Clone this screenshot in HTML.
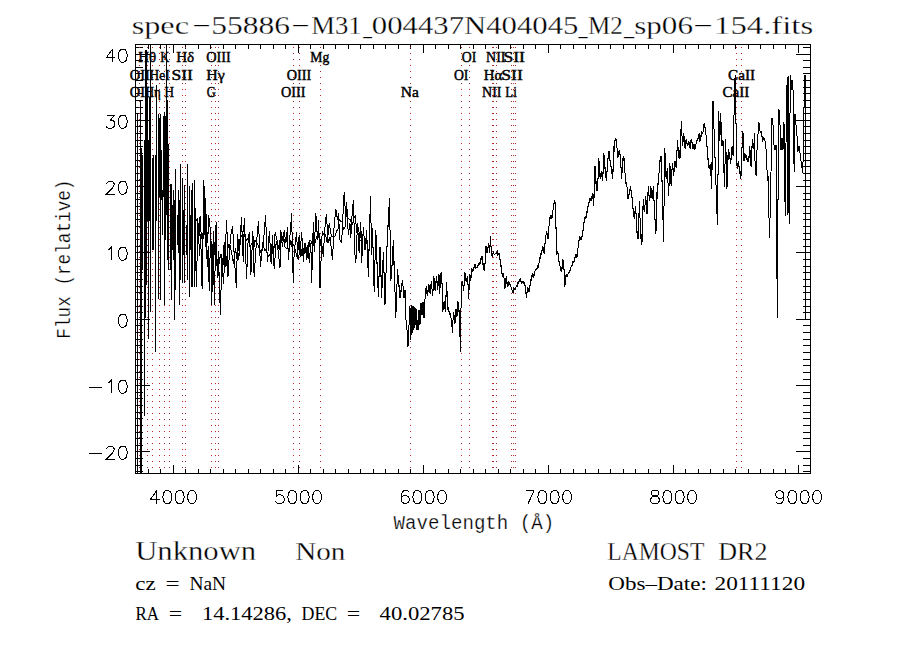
<!DOCTYPE html>
<html><head><meta charset="utf-8"><style>html,body{margin:0;padding:0;background:#fff;}svg{display:block}</style></head>
<body><svg width="900" height="650" viewBox="0 0 900 650">
<rect width="900" height="650" fill="#fff"/>
<path d="M135.5,44.5 H810.5 V473.5 H135.5 Z M135.5,473 v-4 M135.5,45 v4 M148.5,473 v-4 M148.5,45 v4 M160.5,473 v-4 M160.5,45 v4 M173.5,473 v-8 M173.5,45 v8 M185.5,473 v-4 M185.5,45 v4 M198.5,473 v-4 M198.5,45 v4 M210.5,473 v-4 M210.5,45 v4 M223.5,473 v-4 M223.5,45 v4 M235.5,473 v-4 M235.5,45 v4 M248.5,473 v-4 M248.5,45 v4 M260.5,473 v-4 M260.5,45 v4 M273.5,473 v-4 M273.5,45 v4 M285.5,473 v-4 M285.5,45 v4 M298.5,473 v-8 M298.5,45 v8 M310.5,473 v-4 M310.5,45 v4 M323.5,473 v-4 M323.5,45 v4 M335.5,473 v-4 M335.5,45 v4 M348.5,473 v-4 M348.5,45 v4 M360.5,473 v-4 M360.5,45 v4 M373.5,473 v-4 M373.5,45 v4 M385.5,473 v-4 M385.5,45 v4 M398.5,473 v-4 M398.5,45 v4 M410.5,473 v-4 M410.5,45 v4 M423.5,473 v-8 M423.5,45 v8 M435.5,473 v-4 M435.5,45 v4 M448.5,473 v-4 M448.5,45 v4 M460.5,473 v-4 M460.5,45 v4 M473.5,473 v-4 M473.5,45 v4 M485.5,473 v-4 M485.5,45 v4 M498.5,473 v-4 M498.5,45 v4 M510.5,473 v-4 M510.5,45 v4 M523.5,473 v-4 M523.5,45 v4 M535.5,473 v-4 M535.5,45 v4 M548.5,473 v-8 M548.5,45 v8 M560.5,473 v-4 M560.5,45 v4 M573.5,473 v-4 M573.5,45 v4 M585.5,473 v-4 M585.5,45 v4 M598.5,473 v-4 M598.5,45 v4 M610.5,473 v-4 M610.5,45 v4 M623.5,473 v-4 M623.5,45 v4 M635.5,473 v-4 M635.5,45 v4 M648.5,473 v-4 M648.5,45 v4 M660.5,473 v-4 M660.5,45 v4 M673.5,473 v-8 M673.5,45 v8 M685.5,473 v-4 M685.5,45 v4 M698.5,473 v-4 M698.5,45 v4 M710.5,473 v-4 M710.5,45 v4 M723.5,473 v-4 M723.5,45 v4 M735.5,473 v-4 M735.5,45 v4 M748.5,473 v-4 M748.5,45 v4 M760.5,473 v-4 M760.5,45 v4 M773.5,473 v-4 M773.5,45 v4 M785.5,473 v-4 M785.5,45 v4 M798.5,473 v-8 M798.5,45 v8 M136,471.5 h7 M810,471.5 h-7 M136,465.5 h7 M810,465.5 h-7 M136,458.5 h7 M810,458.5 h-7 M136,451.5 h14 M810,451.5 h-14 M136,445.5 h7 M810,445.5 h-7 M136,438.5 h7 M810,438.5 h-7 M136,432.5 h7 M810,432.5 h-7 M136,425.5 h7 M810,425.5 h-7 M136,418.5 h7 M810,418.5 h-7 M136,412.5 h7 M810,412.5 h-7 M136,405.5 h7 M810,405.5 h-7 M136,398.5 h7 M810,398.5 h-7 M136,392.5 h7 M810,392.5 h-7 M136,385.5 h14 M810,385.5 h-14 M136,379.5 h7 M810,379.5 h-7 M136,372.5 h7 M810,372.5 h-7 M136,365.5 h7 M810,365.5 h-7 M136,359.5 h7 M810,359.5 h-7 M136,352.5 h7 M810,352.5 h-7 M136,345.5 h7 M810,345.5 h-7 M136,339.5 h7 M810,339.5 h-7 M136,332.5 h7 M810,332.5 h-7 M136,325.5 h7 M810,325.5 h-7 M136,319.5 h14 M810,319.5 h-14 M136,312.5 h7 M810,312.5 h-7 M136,306.5 h7 M810,306.5 h-7 M136,299.5 h7 M810,299.5 h-7 M136,292.5 h7 M810,292.5 h-7 M136,286.5 h7 M810,286.5 h-7 M136,279.5 h7 M810,279.5 h-7 M136,272.5 h7 M810,272.5 h-7 M136,266.5 h7 M810,266.5 h-7 M136,259.5 h7 M810,259.5 h-7 M136,252.5 h14 M810,252.5 h-14 M136,246.5 h7 M810,246.5 h-7 M136,239.5 h7 M810,239.5 h-7 M136,233.5 h7 M810,233.5 h-7 M136,226.5 h7 M810,226.5 h-7 M136,219.5 h7 M810,219.5 h-7 M136,213.5 h7 M810,213.5 h-7 M136,206.5 h7 M810,206.5 h-7 M136,199.5 h7 M810,199.5 h-7 M136,193.5 h7 M810,193.5 h-7 M136,186.5 h14 M810,186.5 h-14 M136,180.5 h7 M810,180.5 h-7 M136,173.5 h7 M810,173.5 h-7 M136,166.5 h7 M810,166.5 h-7 M136,160.5 h7 M810,160.5 h-7 M136,153.5 h7 M810,153.5 h-7 M136,146.5 h7 M810,146.5 h-7 M136,140.5 h7 M810,140.5 h-7 M136,133.5 h7 M810,133.5 h-7 M136,126.5 h7 M810,126.5 h-7 M136,120.5 h14 M810,120.5 h-14 M136,113.5 h7 M810,113.5 h-7 M136,107.5 h7 M810,107.5 h-7 M136,100.5 h7 M810,100.5 h-7 M136,93.5 h7 M810,93.5 h-7 M136,87.5 h7 M810,87.5 h-7 M136,80.5 h7 M810,80.5 h-7 M136,73.5 h7 M810,73.5 h-7 M136,67.5 h7 M810,67.5 h-7 M136,60.5 h7 M810,60.5 h-7 M136,54.5 h14 M810,54.5 h-14 M136,47.5 h7 M810,47.5 h-7" stroke="#000" stroke-width="1" fill="none" shape-rendering="crispEdges"/>
<path d="M156.81,490.52 L150.63,499.17 L159.90,499.17M156.81,490.52 L156.81,503.50M166.70,490.52 L164.85,491.14 L163.61,492.99 L162.99,496.08 L162.99,497.94 L163.61,501.03 L164.85,502.88 L166.70,503.50 L167.94,503.50 L169.79,502.88 L171.03,501.03 L171.65,497.94 L171.65,496.08 L171.03,492.99 L169.79,491.14 L167.94,490.52 L166.70,490.52M179.06,490.52 L177.21,491.14 L175.97,492.99 L175.35,496.08 L175.35,497.94 L175.97,501.03 L177.21,502.88 L179.06,503.50 L180.30,503.50 L182.15,502.88 L183.39,501.03 L184.01,497.94 L184.01,496.08 L183.39,492.99 L182.15,491.14 L180.30,490.52 L179.06,490.52M191.42,490.52 L189.57,491.14 L188.33,492.99 L187.71,496.08 L187.71,497.94 L188.33,501.03 L189.57,502.88 L191.42,503.50 L192.66,503.50 L194.51,502.88 L195.75,501.03 L196.37,497.94 L196.37,496.08 L195.75,492.99 L194.51,491.14 L192.66,490.52 L191.42,490.52M283.05,490.52 L276.87,490.52 L276.25,496.08 L276.87,495.47 L278.72,494.85 L280.58,494.85 L282.43,495.47 L283.67,496.70 L284.29,498.56 L284.29,499.79 L283.67,501.65 L282.43,502.88 L280.58,503.50 L278.72,503.50 L276.87,502.88 L276.25,502.26 L275.63,501.03M291.70,490.52 L289.85,491.14 L288.61,492.99 L287.99,496.08 L287.99,497.94 L288.61,501.03 L289.85,502.88 L291.70,503.50 L292.94,503.50 L294.79,502.88 L296.03,501.03 L296.65,497.94 L296.65,496.08 L296.03,492.99 L294.79,491.14 L292.94,490.52 L291.70,490.52M304.06,490.52 L302.21,491.14 L300.97,492.99 L300.35,496.08 L300.35,497.94 L300.97,501.03 L302.21,502.88 L304.06,503.50 L305.30,503.50 L307.15,502.88 L308.39,501.03 L309.01,497.94 L309.01,496.08 L308.39,492.99 L307.15,491.14 L305.30,490.52 L304.06,490.52M316.42,490.52 L314.57,491.14 L313.33,492.99 L312.71,496.08 L312.71,497.94 L313.33,501.03 L314.57,502.88 L316.42,503.50 L317.66,503.50 L319.51,502.88 L320.75,501.03 L321.37,497.94 L321.37,496.08 L320.75,492.99 L319.51,491.14 L317.66,490.52 L316.42,490.52M408.67,492.38 L408.05,491.14 L406.20,490.52 L404.96,490.52 L403.11,491.14 L401.87,492.99 L401.25,496.08 L401.25,499.17 L401.87,501.65 L403.11,502.88 L404.96,503.50 L405.58,503.50 L407.43,502.88 L408.67,501.65 L409.29,499.79 L409.29,499.17 L408.67,497.32 L407.43,496.08 L405.58,495.47 L404.96,495.47 L403.11,496.08 L401.87,497.32 L401.25,499.17M416.70,490.52 L414.85,491.14 L413.61,492.99 L412.99,496.08 L412.99,497.94 L413.61,501.03 L414.85,502.88 L416.70,503.50 L417.94,503.50 L419.79,502.88 L421.03,501.03 L421.65,497.94 L421.65,496.08 L421.03,492.99 L419.79,491.14 L417.94,490.52 L416.70,490.52M429.06,490.52 L427.21,491.14 L425.97,492.99 L425.35,496.08 L425.35,497.94 L425.97,501.03 L427.21,502.88 L429.06,503.50 L430.30,503.50 L432.15,502.88 L433.39,501.03 L434.01,497.94 L434.01,496.08 L433.39,492.99 L432.15,491.14 L430.30,490.52 L429.06,490.52M441.42,490.52 L439.57,491.14 L438.33,492.99 L437.71,496.08 L437.71,497.94 L438.33,501.03 L439.57,502.88 L441.42,503.50 L442.66,503.50 L444.51,502.88 L445.75,501.03 L446.37,497.94 L446.37,496.08 L445.75,492.99 L444.51,491.14 L442.66,490.52 L441.42,490.52M534.29,490.52 L528.11,503.50M525.63,490.52 L534.29,490.52M541.70,490.52 L539.85,491.14 L538.61,492.99 L537.99,496.08 L537.99,497.94 L538.61,501.03 L539.85,502.88 L541.70,503.50 L542.94,503.50 L544.79,502.88 L546.03,501.03 L546.65,497.94 L546.65,496.08 L546.03,492.99 L544.79,491.14 L542.94,490.52 L541.70,490.52M554.06,490.52 L552.21,491.14 L550.97,492.99 L550.35,496.08 L550.35,497.94 L550.97,501.03 L552.21,502.88 L554.06,503.50 L555.30,503.50 L557.15,502.88 L558.39,501.03 L559.01,497.94 L559.01,496.08 L558.39,492.99 L557.15,491.14 L555.30,490.52 L554.06,490.52M566.42,490.52 L564.57,491.14 L563.33,492.99 L562.71,496.08 L562.71,497.94 L563.33,501.03 L564.57,502.88 L566.42,503.50 L567.66,503.50 L569.51,502.88 L570.75,501.03 L571.37,497.94 L571.37,496.08 L570.75,492.99 L569.51,491.14 L567.66,490.52 L566.42,490.52M653.72,490.52 L651.87,491.14 L651.25,492.38 L651.25,493.61 L651.87,494.85 L653.11,495.47 L655.58,496.08 L657.43,496.70 L658.67,497.94 L659.29,499.17 L659.29,501.03 L658.67,502.26 L658.05,502.88 L656.20,503.50 L653.72,503.50 L651.87,502.88 L651.25,502.26 L650.63,501.03 L650.63,499.17 L651.25,497.94 L652.49,496.70 L654.34,496.08 L656.81,495.47 L658.05,494.85 L658.67,493.61 L658.67,492.38 L658.05,491.14 L656.20,490.52 L653.72,490.52M666.70,490.52 L664.85,491.14 L663.61,492.99 L662.99,496.08 L662.99,497.94 L663.61,501.03 L664.85,502.88 L666.70,503.50 L667.94,503.50 L669.79,502.88 L671.03,501.03 L671.65,497.94 L671.65,496.08 L671.03,492.99 L669.79,491.14 L667.94,490.52 L666.70,490.52M679.06,490.52 L677.21,491.14 L675.97,492.99 L675.35,496.08 L675.35,497.94 L675.97,501.03 L677.21,502.88 L679.06,503.50 L680.30,503.50 L682.15,502.88 L683.39,501.03 L684.01,497.94 L684.01,496.08 L683.39,492.99 L682.15,491.14 L680.30,490.52 L679.06,490.52M691.42,490.52 L689.57,491.14 L688.33,492.99 L687.71,496.08 L687.71,497.94 L688.33,501.03 L689.57,502.88 L691.42,503.50 L692.66,503.50 L694.51,502.88 L695.75,501.03 L696.37,497.94 L696.37,496.08 L695.75,492.99 L694.51,491.14 L692.66,490.52 L691.42,490.52M783.67,494.85 L783.05,496.70 L781.81,497.94 L779.96,498.56 L779.34,498.56 L777.49,497.94 L776.25,496.70 L775.63,494.85 L775.63,494.23 L776.25,492.38 L777.49,491.14 L779.34,490.52 L779.96,490.52 L781.81,491.14 L783.05,492.38 L783.67,494.85 L783.67,497.94 L783.05,501.03 L781.81,502.88 L779.96,503.50 L778.72,503.50 L776.87,502.88 L776.25,501.65M791.70,490.52 L789.85,491.14 L788.61,492.99 L787.99,496.08 L787.99,497.94 L788.61,501.03 L789.85,502.88 L791.70,503.50 L792.94,503.50 L794.79,502.88 L796.03,501.03 L796.65,497.94 L796.65,496.08 L796.03,492.99 L794.79,491.14 L792.94,490.52 L791.70,490.52M804.06,490.52 L802.21,491.14 L800.97,492.99 L800.35,496.08 L800.35,497.94 L800.97,501.03 L802.21,502.88 L804.06,503.50 L805.30,503.50 L807.15,502.88 L808.39,501.03 L809.01,497.94 L809.01,496.08 L808.39,492.99 L807.15,491.14 L805.30,490.52 L804.06,490.52M816.42,490.52 L814.57,491.14 L813.33,492.99 L812.71,496.08 L812.71,497.94 L813.33,501.03 L814.57,502.88 L816.42,503.50 L817.66,503.50 L819.51,502.88 L820.75,501.03 L821.37,497.94 L821.37,496.08 L820.75,492.99 L819.51,491.14 L817.66,490.52 L816.42,490.52M88.83,453.74 L101.81,453.74M106.75,449.41 L106.75,448.79 L107.37,447.56 L107.99,446.94 L109.22,446.32 L111.70,446.32 L112.93,446.94 L113.55,447.56 L114.17,448.79 L114.17,450.03 L113.55,451.27 L112.31,453.12 L106.13,459.30 L114.79,459.30M122.20,446.32 L120.35,446.94 L119.11,448.79 L118.49,451.88 L118.49,453.74 L119.11,456.83 L120.35,458.68 L122.20,459.30 L123.44,459.30 L125.29,458.68 L126.53,456.83 L127.15,453.74 L127.15,451.88 L126.53,448.79 L125.29,446.94 L123.44,446.32 L122.20,446.32M88.83,387.74 L101.81,387.74M107.99,382.79 L109.22,382.18 L111.08,380.32 L111.08,393.30M122.20,380.32 L120.35,380.94 L119.11,382.79 L118.49,385.88 L118.49,387.74 L119.11,390.83 L120.35,392.68 L122.20,393.30 L123.44,393.30 L125.29,392.68 L126.53,390.83 L127.15,387.74 L127.15,385.88 L126.53,382.79 L125.29,380.94 L123.44,380.32 L122.20,380.32M122.20,314.32 L120.35,314.94 L119.11,316.79 L118.49,319.88 L118.49,321.74 L119.11,324.83 L120.35,326.68 L122.20,327.30 L123.44,327.30 L125.29,326.68 L126.53,324.83 L127.15,321.74 L127.15,319.88 L126.53,316.79 L125.29,314.94 L123.44,314.32 L122.20,314.32M107.99,249.79 L109.22,249.18 L111.08,247.32 L111.08,260.30M122.20,247.32 L120.35,247.94 L119.11,249.79 L118.49,252.88 L118.49,254.74 L119.11,257.83 L120.35,259.68 L122.20,260.30 L123.44,260.30 L125.29,259.68 L126.53,257.83 L127.15,254.74 L127.15,252.88 L126.53,249.79 L125.29,247.94 L123.44,247.32 L122.20,247.32M106.75,184.41 L106.75,183.79 L107.37,182.56 L107.99,181.94 L109.22,181.32 L111.70,181.32 L112.93,181.94 L113.55,182.56 L114.17,183.79 L114.17,185.03 L113.55,186.27 L112.31,188.12 L106.13,194.30 L114.79,194.30M122.20,181.32 L120.35,181.94 L119.11,183.79 L118.49,186.88 L118.49,188.74 L119.11,191.83 L120.35,193.68 L122.20,194.30 L123.44,194.30 L125.29,193.68 L126.53,191.83 L127.15,188.74 L127.15,186.88 L126.53,183.79 L125.29,181.94 L123.44,181.32 L122.20,181.32M107.37,115.32 L114.17,115.32 L110.46,120.27 L112.31,120.27 L113.55,120.88 L114.17,121.50 L114.79,123.36 L114.79,124.59 L114.17,126.45 L112.93,127.68 L111.08,128.30 L109.22,128.30 L107.37,127.68 L106.75,127.06 L106.13,125.83M122.20,115.32 L120.35,115.94 L119.11,117.79 L118.49,120.88 L118.49,122.74 L119.11,125.83 L120.35,127.68 L122.20,128.30 L123.44,128.30 L125.29,127.68 L126.53,125.83 L127.15,122.74 L127.15,120.88 L126.53,117.79 L125.29,115.94 L123.44,115.32 L122.20,115.32M112.31,49.32 L106.13,57.97 L115.40,57.97M112.31,49.32 L112.31,62.30M122.20,49.32 L120.35,49.94 L119.11,51.79 L118.49,54.88 L118.49,56.74 L119.11,59.83 L120.35,61.68 L122.20,62.30 L123.44,62.30 L125.29,61.68 L126.53,59.83 L127.15,56.74 L127.15,54.88 L126.53,51.79 L125.29,49.94 L123.44,49.32 L122.20,49.32" stroke="#000" stroke-width="1" fill="none" shape-rendering="crispEdges"/>
<path d="M139,47h1v1h-1zM139,53h1v1h-1zM139,59h1v1h-1zM139,65h1v1h-1zM139,71h1v1h-1zM139,77h1v1h-1zM139,83h1v1h-1zM139,89h1v1h-1zM139,95h1v1h-1zM139,101h1v1h-1zM139,107h1v1h-1zM139,113h1v1h-1zM139,119h1v1h-1zM139,125h1v1h-1zM139,131h1v1h-1zM139,137h1v1h-1zM139,143h1v1h-1zM139,149h1v1h-1zM139,155h1v1h-1zM139,161h1v1h-1zM139,167h1v1h-1zM139,173h1v1h-1zM139,179h1v1h-1zM139,185h1v1h-1zM139,191h1v1h-1zM139,197h1v1h-1zM139,203h1v1h-1zM139,209h1v1h-1zM139,215h1v1h-1zM139,221h1v1h-1zM139,227h1v1h-1zM139,233h1v1h-1zM139,239h1v1h-1zM139,245h1v1h-1zM139,251h1v1h-1zM139,257h1v1h-1zM139,263h1v1h-1zM139,269h1v1h-1zM139,275h1v1h-1zM139,281h1v1h-1zM139,287h1v1h-1zM139,293h1v1h-1zM139,299h1v1h-1zM139,305h1v1h-1zM139,311h1v1h-1zM139,317h1v1h-1zM139,323h1v1h-1zM139,329h1v1h-1zM139,335h1v1h-1zM139,341h1v1h-1zM139,347h1v1h-1zM139,353h1v1h-1zM139,359h1v1h-1zM139,365h1v1h-1zM139,371h1v1h-1zM139,377h1v1h-1zM139,383h1v1h-1zM139,389h1v1h-1zM139,395h1v1h-1zM139,401h1v1h-1zM139,407h1v1h-1zM139,413h1v1h-1zM139,419h1v1h-1zM139,425h1v1h-1zM139,431h1v1h-1zM139,437h1v1h-1zM139,443h1v1h-1zM139,449h1v1h-1zM139,455h1v1h-1zM139,461h1v1h-1zM139,467h1v1h-1zM147,47h1v1h-1zM147,53h1v1h-1zM147,59h1v1h-1zM147,65h1v1h-1zM147,71h1v1h-1zM147,77h1v1h-1zM147,83h1v1h-1zM147,89h1v1h-1zM147,95h1v1h-1zM147,101h1v1h-1zM147,107h1v1h-1zM147,113h1v1h-1zM147,119h1v1h-1zM147,125h1v1h-1zM147,131h1v1h-1zM147,137h1v1h-1zM147,143h1v1h-1zM147,149h1v1h-1zM147,155h1v1h-1zM147,161h1v1h-1zM147,167h1v1h-1zM147,173h1v1h-1zM147,179h1v1h-1zM147,185h1v1h-1zM147,191h1v1h-1zM147,197h1v1h-1zM147,203h1v1h-1zM147,209h1v1h-1zM147,215h1v1h-1zM147,221h1v1h-1zM147,227h1v1h-1zM147,233h1v1h-1zM147,239h1v1h-1zM147,245h1v1h-1zM147,251h1v1h-1zM147,257h1v1h-1zM147,263h1v1h-1zM147,269h1v1h-1zM147,275h1v1h-1zM147,281h1v1h-1zM147,287h1v1h-1zM147,293h1v1h-1zM147,299h1v1h-1zM147,305h1v1h-1zM147,311h1v1h-1zM147,317h1v1h-1zM147,323h1v1h-1zM147,329h1v1h-1zM147,335h1v1h-1zM147,341h1v1h-1zM147,347h1v1h-1zM147,353h1v1h-1zM147,359h1v1h-1zM147,365h1v1h-1zM147,371h1v1h-1zM147,377h1v1h-1zM147,383h1v1h-1zM147,389h1v1h-1zM147,395h1v1h-1zM147,401h1v1h-1zM147,407h1v1h-1zM147,413h1v1h-1zM147,419h1v1h-1zM147,425h1v1h-1zM147,431h1v1h-1zM147,437h1v1h-1zM147,443h1v1h-1zM147,449h1v1h-1zM147,455h1v1h-1zM147,461h1v1h-1zM147,467h1v1h-1zM152,47h1v1h-1zM152,53h1v1h-1zM152,59h1v1h-1zM152,65h1v1h-1zM152,71h1v1h-1zM152,77h1v1h-1zM152,83h1v1h-1zM152,89h1v1h-1zM152,95h1v1h-1zM152,101h1v1h-1zM152,107h1v1h-1zM152,113h1v1h-1zM152,119h1v1h-1zM152,125h1v1h-1zM152,131h1v1h-1zM152,137h1v1h-1zM152,143h1v1h-1zM152,149h1v1h-1zM152,155h1v1h-1zM152,161h1v1h-1zM152,167h1v1h-1zM152,173h1v1h-1zM152,179h1v1h-1zM152,185h1v1h-1zM152,191h1v1h-1zM152,197h1v1h-1zM152,203h1v1h-1zM152,209h1v1h-1zM152,215h1v1h-1zM152,221h1v1h-1zM152,227h1v1h-1zM152,233h1v1h-1zM152,239h1v1h-1zM152,245h1v1h-1zM152,251h1v1h-1zM152,257h1v1h-1zM152,263h1v1h-1zM152,269h1v1h-1zM152,275h1v1h-1zM152,281h1v1h-1zM152,287h1v1h-1zM152,293h1v1h-1zM152,299h1v1h-1zM152,305h1v1h-1zM152,311h1v1h-1zM152,317h1v1h-1zM152,323h1v1h-1zM152,329h1v1h-1zM152,335h1v1h-1zM152,341h1v1h-1zM152,347h1v1h-1zM152,353h1v1h-1zM152,359h1v1h-1zM152,365h1v1h-1zM152,371h1v1h-1zM152,377h1v1h-1zM152,383h1v1h-1zM152,389h1v1h-1zM152,395h1v1h-1zM152,401h1v1h-1zM152,407h1v1h-1zM152,413h1v1h-1zM152,419h1v1h-1zM152,425h1v1h-1zM152,431h1v1h-1zM152,437h1v1h-1zM152,443h1v1h-1zM152,449h1v1h-1zM152,455h1v1h-1zM152,461h1v1h-1zM152,467h1v1h-1zM159,47h1v1h-1zM159,53h1v1h-1zM159,59h1v1h-1zM159,65h1v1h-1zM159,71h1v1h-1zM159,77h1v1h-1zM159,83h1v1h-1zM159,89h1v1h-1zM159,95h1v1h-1zM159,101h1v1h-1zM159,107h1v1h-1zM159,113h1v1h-1zM159,119h1v1h-1zM159,125h1v1h-1zM159,131h1v1h-1zM159,137h1v1h-1zM159,143h1v1h-1zM159,149h1v1h-1zM159,155h1v1h-1zM159,161h1v1h-1zM159,167h1v1h-1zM159,173h1v1h-1zM159,179h1v1h-1zM159,185h1v1h-1zM159,191h1v1h-1zM159,197h1v1h-1zM159,203h1v1h-1zM159,209h1v1h-1zM159,215h1v1h-1zM159,221h1v1h-1zM159,227h1v1h-1zM159,233h1v1h-1zM159,239h1v1h-1zM159,245h1v1h-1zM159,251h1v1h-1zM159,257h1v1h-1zM159,263h1v1h-1zM159,269h1v1h-1zM159,275h1v1h-1zM159,281h1v1h-1zM159,287h1v1h-1zM159,293h1v1h-1zM159,299h1v1h-1zM159,305h1v1h-1zM159,311h1v1h-1zM159,317h1v1h-1zM159,323h1v1h-1zM159,329h1v1h-1zM159,335h1v1h-1zM159,341h1v1h-1zM159,347h1v1h-1zM159,353h1v1h-1zM159,359h1v1h-1zM159,365h1v1h-1zM159,371h1v1h-1zM159,377h1v1h-1zM159,383h1v1h-1zM159,389h1v1h-1zM159,395h1v1h-1zM159,401h1v1h-1zM159,407h1v1h-1zM159,413h1v1h-1zM159,419h1v1h-1zM159,425h1v1h-1zM159,431h1v1h-1zM159,437h1v1h-1zM159,443h1v1h-1zM159,449h1v1h-1zM159,455h1v1h-1zM159,461h1v1h-1zM159,467h1v1h-1zM164,47h1v1h-1zM164,53h1v1h-1zM164,59h1v1h-1zM164,65h1v1h-1zM164,71h1v1h-1zM164,77h1v1h-1zM164,83h1v1h-1zM164,89h1v1h-1zM164,95h1v1h-1zM164,101h1v1h-1zM164,107h1v1h-1zM164,113h1v1h-1zM164,119h1v1h-1zM164,125h1v1h-1zM164,131h1v1h-1zM164,137h1v1h-1zM164,143h1v1h-1zM164,149h1v1h-1zM164,155h1v1h-1zM164,161h1v1h-1zM164,167h1v1h-1zM164,173h1v1h-1zM164,179h1v1h-1zM164,185h1v1h-1zM164,191h1v1h-1zM164,197h1v1h-1zM164,203h1v1h-1zM164,209h1v1h-1zM164,215h1v1h-1zM164,221h1v1h-1zM164,227h1v1h-1zM164,233h1v1h-1zM164,239h1v1h-1zM164,245h1v1h-1zM164,251h1v1h-1zM164,257h1v1h-1zM164,263h1v1h-1zM164,269h1v1h-1zM164,275h1v1h-1zM164,281h1v1h-1zM164,287h1v1h-1zM164,293h1v1h-1zM164,299h1v1h-1zM164,305h1v1h-1zM164,311h1v1h-1zM164,317h1v1h-1zM164,323h1v1h-1zM164,329h1v1h-1zM164,335h1v1h-1zM164,341h1v1h-1zM164,347h1v1h-1zM164,353h1v1h-1zM164,359h1v1h-1zM164,365h1v1h-1zM164,371h1v1h-1zM164,377h1v1h-1zM164,383h1v1h-1zM164,389h1v1h-1zM164,395h1v1h-1zM164,401h1v1h-1zM164,407h1v1h-1zM164,413h1v1h-1zM164,419h1v1h-1zM164,425h1v1h-1zM164,431h1v1h-1zM164,437h1v1h-1zM164,443h1v1h-1zM164,449h1v1h-1zM164,455h1v1h-1zM164,461h1v1h-1zM164,467h1v1h-1zM169,47h1v1h-1zM169,53h1v1h-1zM169,59h1v1h-1zM169,65h1v1h-1zM169,71h1v1h-1zM169,77h1v1h-1zM169,83h1v1h-1zM169,89h1v1h-1zM169,95h1v1h-1zM169,101h1v1h-1zM169,107h1v1h-1zM169,113h1v1h-1zM169,119h1v1h-1zM169,125h1v1h-1zM169,131h1v1h-1zM169,137h1v1h-1zM169,143h1v1h-1zM169,149h1v1h-1zM169,155h1v1h-1zM169,161h1v1h-1zM169,167h1v1h-1zM169,173h1v1h-1zM169,179h1v1h-1zM169,185h1v1h-1zM169,191h1v1h-1zM169,197h1v1h-1zM169,203h1v1h-1zM169,209h1v1h-1zM169,215h1v1h-1zM169,221h1v1h-1zM169,227h1v1h-1zM169,233h1v1h-1zM169,239h1v1h-1zM169,245h1v1h-1zM169,251h1v1h-1zM169,257h1v1h-1zM169,263h1v1h-1zM169,269h1v1h-1zM169,275h1v1h-1zM169,281h1v1h-1zM169,287h1v1h-1zM169,293h1v1h-1zM169,299h1v1h-1zM169,305h1v1h-1zM169,311h1v1h-1zM169,317h1v1h-1zM169,323h1v1h-1zM169,329h1v1h-1zM169,335h1v1h-1zM169,341h1v1h-1zM169,347h1v1h-1zM169,353h1v1h-1zM169,359h1v1h-1zM169,365h1v1h-1zM169,371h1v1h-1zM169,377h1v1h-1zM169,383h1v1h-1zM169,389h1v1h-1zM169,395h1v1h-1zM169,401h1v1h-1zM169,407h1v1h-1zM169,413h1v1h-1zM169,419h1v1h-1zM169,425h1v1h-1zM169,431h1v1h-1zM169,437h1v1h-1zM169,443h1v1h-1zM169,449h1v1h-1zM169,455h1v1h-1zM169,461h1v1h-1zM169,467h1v1h-1zM182,47h1v1h-1zM182,53h1v1h-1zM182,59h1v1h-1zM182,65h1v1h-1zM182,71h1v1h-1zM182,77h1v1h-1zM182,83h1v1h-1zM182,89h1v1h-1zM182,95h1v1h-1zM182,101h1v1h-1zM182,107h1v1h-1zM182,113h1v1h-1zM182,119h1v1h-1zM182,125h1v1h-1zM182,131h1v1h-1zM182,137h1v1h-1zM182,143h1v1h-1zM182,149h1v1h-1zM182,155h1v1h-1zM182,161h1v1h-1zM182,167h1v1h-1zM182,173h1v1h-1zM182,179h1v1h-1zM182,185h1v1h-1zM182,191h1v1h-1zM182,197h1v1h-1zM182,203h1v1h-1zM182,209h1v1h-1zM182,215h1v1h-1zM182,221h1v1h-1zM182,227h1v1h-1zM182,233h1v1h-1zM182,239h1v1h-1zM182,245h1v1h-1zM182,251h1v1h-1zM182,257h1v1h-1zM182,263h1v1h-1zM182,269h1v1h-1zM182,275h1v1h-1zM182,281h1v1h-1zM182,287h1v1h-1zM182,293h1v1h-1zM182,299h1v1h-1zM182,305h1v1h-1zM182,311h1v1h-1zM182,317h1v1h-1zM182,323h1v1h-1zM182,329h1v1h-1zM182,335h1v1h-1zM182,341h1v1h-1zM182,347h1v1h-1zM182,353h1v1h-1zM182,359h1v1h-1zM182,365h1v1h-1zM182,371h1v1h-1zM182,377h1v1h-1zM182,383h1v1h-1zM182,389h1v1h-1zM182,395h1v1h-1zM182,401h1v1h-1zM182,407h1v1h-1zM182,413h1v1h-1zM182,419h1v1h-1zM182,425h1v1h-1zM182,431h1v1h-1zM182,437h1v1h-1zM182,443h1v1h-1zM182,449h1v1h-1zM182,455h1v1h-1zM182,461h1v1h-1zM182,467h1v1h-1zM185,47h1v1h-1zM185,53h1v1h-1zM185,59h1v1h-1zM185,65h1v1h-1zM185,71h1v1h-1zM185,77h1v1h-1zM185,83h1v1h-1zM185,89h1v1h-1zM185,95h1v1h-1zM185,101h1v1h-1zM185,107h1v1h-1zM185,113h1v1h-1zM185,119h1v1h-1zM185,125h1v1h-1zM185,131h1v1h-1zM185,137h1v1h-1zM185,143h1v1h-1zM185,149h1v1h-1zM185,155h1v1h-1zM185,161h1v1h-1zM185,167h1v1h-1zM185,173h1v1h-1zM185,179h1v1h-1zM185,185h1v1h-1zM185,191h1v1h-1zM185,197h1v1h-1zM185,203h1v1h-1zM185,209h1v1h-1zM185,215h1v1h-1zM185,221h1v1h-1zM185,227h1v1h-1zM185,233h1v1h-1zM185,239h1v1h-1zM185,245h1v1h-1zM185,251h1v1h-1zM185,257h1v1h-1zM185,263h1v1h-1zM185,269h1v1h-1zM185,275h1v1h-1zM185,281h1v1h-1zM185,287h1v1h-1zM185,293h1v1h-1zM185,299h1v1h-1zM185,305h1v1h-1zM185,311h1v1h-1zM185,317h1v1h-1zM185,323h1v1h-1zM185,329h1v1h-1zM185,335h1v1h-1zM185,341h1v1h-1zM185,347h1v1h-1zM185,353h1v1h-1zM185,359h1v1h-1zM185,365h1v1h-1zM185,371h1v1h-1zM185,377h1v1h-1zM185,383h1v1h-1zM185,389h1v1h-1zM185,395h1v1h-1zM185,401h1v1h-1zM185,407h1v1h-1zM185,413h1v1h-1zM185,419h1v1h-1zM185,425h1v1h-1zM185,431h1v1h-1zM185,437h1v1h-1zM185,443h1v1h-1zM185,449h1v1h-1zM185,455h1v1h-1zM185,461h1v1h-1zM185,467h1v1h-1zM211,47h1v1h-1zM211,53h1v1h-1zM211,59h1v1h-1zM211,65h1v1h-1zM211,71h1v1h-1zM211,77h1v1h-1zM211,83h1v1h-1zM211,89h1v1h-1zM211,95h1v1h-1zM211,101h1v1h-1zM211,107h1v1h-1zM211,113h1v1h-1zM211,119h1v1h-1zM211,125h1v1h-1zM211,131h1v1h-1zM211,137h1v1h-1zM211,143h1v1h-1zM211,149h1v1h-1zM211,155h1v1h-1zM211,161h1v1h-1zM211,167h1v1h-1zM211,173h1v1h-1zM211,179h1v1h-1zM211,185h1v1h-1zM211,191h1v1h-1zM211,197h1v1h-1zM211,203h1v1h-1zM211,209h1v1h-1zM211,215h1v1h-1zM211,221h1v1h-1zM211,227h1v1h-1zM211,233h1v1h-1zM211,239h1v1h-1zM211,245h1v1h-1zM211,251h1v1h-1zM211,257h1v1h-1zM211,263h1v1h-1zM211,269h1v1h-1zM211,275h1v1h-1zM211,281h1v1h-1zM211,287h1v1h-1zM211,293h1v1h-1zM211,299h1v1h-1zM211,305h1v1h-1zM211,311h1v1h-1zM211,317h1v1h-1zM211,323h1v1h-1zM211,329h1v1h-1zM211,335h1v1h-1zM211,341h1v1h-1zM211,347h1v1h-1zM211,353h1v1h-1zM211,359h1v1h-1zM211,365h1v1h-1zM211,371h1v1h-1zM211,377h1v1h-1zM211,383h1v1h-1zM211,389h1v1h-1zM211,395h1v1h-1zM211,401h1v1h-1zM211,407h1v1h-1zM211,413h1v1h-1zM211,419h1v1h-1zM211,425h1v1h-1zM211,431h1v1h-1zM211,437h1v1h-1zM211,443h1v1h-1zM211,449h1v1h-1zM211,455h1v1h-1zM211,461h1v1h-1zM211,467h1v1h-1zM215,47h1v1h-1zM215,53h1v1h-1zM215,59h1v1h-1zM215,65h1v1h-1zM215,71h1v1h-1zM215,77h1v1h-1zM215,83h1v1h-1zM215,89h1v1h-1zM215,95h1v1h-1zM215,101h1v1h-1zM215,107h1v1h-1zM215,113h1v1h-1zM215,119h1v1h-1zM215,125h1v1h-1zM215,131h1v1h-1zM215,137h1v1h-1zM215,143h1v1h-1zM215,149h1v1h-1zM215,155h1v1h-1zM215,161h1v1h-1zM215,167h1v1h-1zM215,173h1v1h-1zM215,179h1v1h-1zM215,185h1v1h-1zM215,191h1v1h-1zM215,197h1v1h-1zM215,203h1v1h-1zM215,209h1v1h-1zM215,215h1v1h-1zM215,221h1v1h-1zM215,227h1v1h-1zM215,233h1v1h-1zM215,239h1v1h-1zM215,245h1v1h-1zM215,251h1v1h-1zM215,257h1v1h-1zM215,263h1v1h-1zM215,269h1v1h-1zM215,275h1v1h-1zM215,281h1v1h-1zM215,287h1v1h-1zM215,293h1v1h-1zM215,299h1v1h-1zM215,305h1v1h-1zM215,311h1v1h-1zM215,317h1v1h-1zM215,323h1v1h-1zM215,329h1v1h-1zM215,335h1v1h-1zM215,341h1v1h-1zM215,347h1v1h-1zM215,353h1v1h-1zM215,359h1v1h-1zM215,365h1v1h-1zM215,371h1v1h-1zM215,377h1v1h-1zM215,383h1v1h-1zM215,389h1v1h-1zM215,395h1v1h-1zM215,401h1v1h-1zM215,407h1v1h-1zM215,413h1v1h-1zM215,419h1v1h-1zM215,425h1v1h-1zM215,431h1v1h-1zM215,437h1v1h-1zM215,443h1v1h-1zM215,449h1v1h-1zM215,455h1v1h-1zM215,461h1v1h-1zM215,467h1v1h-1zM218,47h1v1h-1zM218,53h1v1h-1zM218,59h1v1h-1zM218,65h1v1h-1zM218,71h1v1h-1zM218,77h1v1h-1zM218,83h1v1h-1zM218,89h1v1h-1zM218,95h1v1h-1zM218,101h1v1h-1zM218,107h1v1h-1zM218,113h1v1h-1zM218,119h1v1h-1zM218,125h1v1h-1zM218,131h1v1h-1zM218,137h1v1h-1zM218,143h1v1h-1zM218,149h1v1h-1zM218,155h1v1h-1zM218,161h1v1h-1zM218,167h1v1h-1zM218,173h1v1h-1zM218,179h1v1h-1zM218,185h1v1h-1zM218,191h1v1h-1zM218,197h1v1h-1zM218,203h1v1h-1zM218,209h1v1h-1zM218,215h1v1h-1zM218,221h1v1h-1zM218,227h1v1h-1zM218,233h1v1h-1zM218,239h1v1h-1zM218,245h1v1h-1zM218,251h1v1h-1zM218,257h1v1h-1zM218,263h1v1h-1zM218,269h1v1h-1zM218,275h1v1h-1zM218,281h1v1h-1zM218,287h1v1h-1zM218,293h1v1h-1zM218,299h1v1h-1zM218,305h1v1h-1zM218,311h1v1h-1zM218,317h1v1h-1zM218,323h1v1h-1zM218,329h1v1h-1zM218,335h1v1h-1zM218,341h1v1h-1zM218,347h1v1h-1zM218,353h1v1h-1zM218,359h1v1h-1zM218,365h1v1h-1zM218,371h1v1h-1zM218,377h1v1h-1zM218,383h1v1h-1zM218,389h1v1h-1zM218,395h1v1h-1zM218,401h1v1h-1zM218,407h1v1h-1zM218,413h1v1h-1zM218,419h1v1h-1zM218,425h1v1h-1zM218,431h1v1h-1zM218,437h1v1h-1zM218,443h1v1h-1zM218,449h1v1h-1zM218,455h1v1h-1zM218,461h1v1h-1zM218,467h1v1h-1zM293,47h1v1h-1zM293,53h1v1h-1zM293,59h1v1h-1zM293,65h1v1h-1zM293,71h1v1h-1zM293,77h1v1h-1zM293,83h1v1h-1zM293,89h1v1h-1zM293,95h1v1h-1zM293,101h1v1h-1zM293,107h1v1h-1zM293,113h1v1h-1zM293,119h1v1h-1zM293,125h1v1h-1zM293,131h1v1h-1zM293,137h1v1h-1zM293,143h1v1h-1zM293,149h1v1h-1zM293,155h1v1h-1zM293,161h1v1h-1zM293,167h1v1h-1zM293,173h1v1h-1zM293,179h1v1h-1zM293,185h1v1h-1zM293,191h1v1h-1zM293,197h1v1h-1zM293,203h1v1h-1zM293,209h1v1h-1zM293,215h1v1h-1zM293,221h1v1h-1zM293,227h1v1h-1zM293,233h1v1h-1zM293,239h1v1h-1zM293,245h1v1h-1zM293,251h1v1h-1zM293,257h1v1h-1zM293,263h1v1h-1zM293,269h1v1h-1zM293,275h1v1h-1zM293,281h1v1h-1zM293,287h1v1h-1zM293,293h1v1h-1zM293,299h1v1h-1zM293,305h1v1h-1zM293,311h1v1h-1zM293,317h1v1h-1zM293,323h1v1h-1zM293,329h1v1h-1zM293,335h1v1h-1zM293,341h1v1h-1zM293,347h1v1h-1zM293,353h1v1h-1zM293,359h1v1h-1zM293,365h1v1h-1zM293,371h1v1h-1zM293,377h1v1h-1zM293,383h1v1h-1zM293,389h1v1h-1zM293,395h1v1h-1zM293,401h1v1h-1zM293,407h1v1h-1zM293,413h1v1h-1zM293,419h1v1h-1zM293,425h1v1h-1zM293,431h1v1h-1zM293,437h1v1h-1zM293,443h1v1h-1zM293,449h1v1h-1zM293,455h1v1h-1zM293,461h1v1h-1zM293,467h1v1h-1zM299,47h1v1h-1zM299,53h1v1h-1zM299,59h1v1h-1zM299,65h1v1h-1zM299,71h1v1h-1zM299,77h1v1h-1zM299,83h1v1h-1zM299,89h1v1h-1zM299,95h1v1h-1zM299,101h1v1h-1zM299,107h1v1h-1zM299,113h1v1h-1zM299,119h1v1h-1zM299,125h1v1h-1zM299,131h1v1h-1zM299,137h1v1h-1zM299,143h1v1h-1zM299,149h1v1h-1zM299,155h1v1h-1zM299,161h1v1h-1zM299,167h1v1h-1zM299,173h1v1h-1zM299,179h1v1h-1zM299,185h1v1h-1zM299,191h1v1h-1zM299,197h1v1h-1zM299,203h1v1h-1zM299,209h1v1h-1zM299,215h1v1h-1zM299,221h1v1h-1zM299,227h1v1h-1zM299,233h1v1h-1zM299,239h1v1h-1zM299,245h1v1h-1zM299,251h1v1h-1zM299,257h1v1h-1zM299,263h1v1h-1zM299,269h1v1h-1zM299,275h1v1h-1zM299,281h1v1h-1zM299,287h1v1h-1zM299,293h1v1h-1zM299,299h1v1h-1zM299,305h1v1h-1zM299,311h1v1h-1zM299,317h1v1h-1zM299,323h1v1h-1zM299,329h1v1h-1zM299,335h1v1h-1zM299,341h1v1h-1zM299,347h1v1h-1zM299,353h1v1h-1zM299,359h1v1h-1zM299,365h1v1h-1zM299,371h1v1h-1zM299,377h1v1h-1zM299,383h1v1h-1zM299,389h1v1h-1zM299,395h1v1h-1zM299,401h1v1h-1zM299,407h1v1h-1zM299,413h1v1h-1zM299,419h1v1h-1zM299,425h1v1h-1zM299,431h1v1h-1zM299,437h1v1h-1zM299,443h1v1h-1zM299,449h1v1h-1zM299,455h1v1h-1zM299,461h1v1h-1zM299,467h1v1h-1zM320,47h1v1h-1zM320,53h1v1h-1zM320,59h1v1h-1zM320,65h1v1h-1zM320,71h1v1h-1zM320,77h1v1h-1zM320,83h1v1h-1zM320,89h1v1h-1zM320,95h1v1h-1zM320,101h1v1h-1zM320,107h1v1h-1zM320,113h1v1h-1zM320,119h1v1h-1zM320,125h1v1h-1zM320,131h1v1h-1zM320,137h1v1h-1zM320,143h1v1h-1zM320,149h1v1h-1zM320,155h1v1h-1zM320,161h1v1h-1zM320,167h1v1h-1zM320,173h1v1h-1zM320,179h1v1h-1zM320,185h1v1h-1zM320,191h1v1h-1zM320,197h1v1h-1zM320,203h1v1h-1zM320,209h1v1h-1zM320,215h1v1h-1zM320,221h1v1h-1zM320,227h1v1h-1zM320,233h1v1h-1zM320,239h1v1h-1zM320,245h1v1h-1zM320,251h1v1h-1zM320,257h1v1h-1zM320,263h1v1h-1zM320,269h1v1h-1zM320,275h1v1h-1zM320,281h1v1h-1zM320,287h1v1h-1zM320,293h1v1h-1zM320,299h1v1h-1zM320,305h1v1h-1zM320,311h1v1h-1zM320,317h1v1h-1zM320,323h1v1h-1zM320,329h1v1h-1zM320,335h1v1h-1zM320,341h1v1h-1zM320,347h1v1h-1zM320,353h1v1h-1zM320,359h1v1h-1zM320,365h1v1h-1zM320,371h1v1h-1zM320,377h1v1h-1zM320,383h1v1h-1zM320,389h1v1h-1zM320,395h1v1h-1zM320,401h1v1h-1zM320,407h1v1h-1zM320,413h1v1h-1zM320,419h1v1h-1zM320,425h1v1h-1zM320,431h1v1h-1zM320,437h1v1h-1zM320,443h1v1h-1zM320,449h1v1h-1zM320,455h1v1h-1zM320,461h1v1h-1zM320,467h1v1h-1zM410,47h1v1h-1zM410,53h1v1h-1zM410,59h1v1h-1zM410,65h1v1h-1zM410,71h1v1h-1zM410,77h1v1h-1zM410,83h1v1h-1zM410,89h1v1h-1zM410,95h1v1h-1zM410,101h1v1h-1zM410,107h1v1h-1zM410,113h1v1h-1zM410,119h1v1h-1zM410,125h1v1h-1zM410,131h1v1h-1zM410,137h1v1h-1zM410,143h1v1h-1zM410,149h1v1h-1zM410,155h1v1h-1zM410,161h1v1h-1zM410,167h1v1h-1zM410,173h1v1h-1zM410,179h1v1h-1zM410,185h1v1h-1zM410,191h1v1h-1zM410,197h1v1h-1zM410,203h1v1h-1zM410,209h1v1h-1zM410,215h1v1h-1zM410,221h1v1h-1zM410,227h1v1h-1zM410,233h1v1h-1zM410,239h1v1h-1zM410,245h1v1h-1zM410,251h1v1h-1zM410,257h1v1h-1zM410,263h1v1h-1zM410,269h1v1h-1zM410,275h1v1h-1zM410,281h1v1h-1zM410,287h1v1h-1zM410,293h1v1h-1zM410,299h1v1h-1zM410,305h1v1h-1zM410,311h1v1h-1zM410,317h1v1h-1zM410,323h1v1h-1zM410,329h1v1h-1zM410,335h1v1h-1zM410,341h1v1h-1zM410,347h1v1h-1zM410,353h1v1h-1zM410,359h1v1h-1zM410,365h1v1h-1zM410,371h1v1h-1zM410,377h1v1h-1zM410,383h1v1h-1zM410,389h1v1h-1zM410,395h1v1h-1zM410,401h1v1h-1zM410,407h1v1h-1zM410,413h1v1h-1zM410,419h1v1h-1zM410,425h1v1h-1zM410,431h1v1h-1zM410,437h1v1h-1zM410,443h1v1h-1zM410,449h1v1h-1zM410,455h1v1h-1zM410,461h1v1h-1zM410,467h1v1h-1zM461,47h1v1h-1zM461,53h1v1h-1zM461,59h1v1h-1zM461,65h1v1h-1zM461,71h1v1h-1zM461,77h1v1h-1zM461,83h1v1h-1zM461,89h1v1h-1zM461,95h1v1h-1zM461,101h1v1h-1zM461,107h1v1h-1zM461,113h1v1h-1zM461,119h1v1h-1zM461,125h1v1h-1zM461,131h1v1h-1zM461,137h1v1h-1zM461,143h1v1h-1zM461,149h1v1h-1zM461,155h1v1h-1zM461,161h1v1h-1zM461,167h1v1h-1zM461,173h1v1h-1zM461,179h1v1h-1zM461,185h1v1h-1zM461,191h1v1h-1zM461,197h1v1h-1zM461,203h1v1h-1zM461,209h1v1h-1zM461,215h1v1h-1zM461,221h1v1h-1zM461,227h1v1h-1zM461,233h1v1h-1zM461,239h1v1h-1zM461,245h1v1h-1zM461,251h1v1h-1zM461,257h1v1h-1zM461,263h1v1h-1zM461,269h1v1h-1zM461,275h1v1h-1zM461,281h1v1h-1zM461,287h1v1h-1zM461,293h1v1h-1zM461,299h1v1h-1zM461,305h1v1h-1zM461,311h1v1h-1zM461,317h1v1h-1zM461,323h1v1h-1zM461,329h1v1h-1zM461,335h1v1h-1zM461,341h1v1h-1zM461,347h1v1h-1zM461,353h1v1h-1zM461,359h1v1h-1zM461,365h1v1h-1zM461,371h1v1h-1zM461,377h1v1h-1zM461,383h1v1h-1zM461,389h1v1h-1zM461,395h1v1h-1zM461,401h1v1h-1zM461,407h1v1h-1zM461,413h1v1h-1zM461,419h1v1h-1zM461,425h1v1h-1zM461,431h1v1h-1zM461,437h1v1h-1zM461,443h1v1h-1zM461,449h1v1h-1zM461,455h1v1h-1zM461,461h1v1h-1zM461,467h1v1h-1zM469,47h1v1h-1zM469,53h1v1h-1zM469,59h1v1h-1zM469,65h1v1h-1zM469,71h1v1h-1zM469,77h1v1h-1zM469,83h1v1h-1zM469,89h1v1h-1zM469,95h1v1h-1zM469,101h1v1h-1zM469,107h1v1h-1zM469,113h1v1h-1zM469,119h1v1h-1zM469,125h1v1h-1zM469,131h1v1h-1zM469,137h1v1h-1zM469,143h1v1h-1zM469,149h1v1h-1zM469,155h1v1h-1zM469,161h1v1h-1zM469,167h1v1h-1zM469,173h1v1h-1zM469,179h1v1h-1zM469,185h1v1h-1zM469,191h1v1h-1zM469,197h1v1h-1zM469,203h1v1h-1zM469,209h1v1h-1zM469,215h1v1h-1zM469,221h1v1h-1zM469,227h1v1h-1zM469,233h1v1h-1zM469,239h1v1h-1zM469,245h1v1h-1zM469,251h1v1h-1zM469,257h1v1h-1zM469,263h1v1h-1zM469,269h1v1h-1zM469,275h1v1h-1zM469,281h1v1h-1zM469,287h1v1h-1zM469,293h1v1h-1zM469,299h1v1h-1zM469,305h1v1h-1zM469,311h1v1h-1zM469,317h1v1h-1zM469,323h1v1h-1zM469,329h1v1h-1zM469,335h1v1h-1zM469,341h1v1h-1zM469,347h1v1h-1zM469,353h1v1h-1zM469,359h1v1h-1zM469,365h1v1h-1zM469,371h1v1h-1zM469,377h1v1h-1zM469,383h1v1h-1zM469,389h1v1h-1zM469,395h1v1h-1zM469,401h1v1h-1zM469,407h1v1h-1zM469,413h1v1h-1zM469,419h1v1h-1zM469,425h1v1h-1zM469,431h1v1h-1zM469,437h1v1h-1zM469,443h1v1h-1zM469,449h1v1h-1zM469,455h1v1h-1zM469,461h1v1h-1zM469,467h1v1h-1zM492,47h1v1h-1zM492,53h1v1h-1zM492,59h1v1h-1zM492,65h1v1h-1zM492,71h1v1h-1zM492,77h1v1h-1zM492,83h1v1h-1zM492,89h1v1h-1zM492,95h1v1h-1zM492,101h1v1h-1zM492,107h1v1h-1zM492,113h1v1h-1zM492,119h1v1h-1zM492,125h1v1h-1zM492,131h1v1h-1zM492,137h1v1h-1zM492,143h1v1h-1zM492,149h1v1h-1zM492,155h1v1h-1zM492,161h1v1h-1zM492,167h1v1h-1zM492,173h1v1h-1zM492,179h1v1h-1zM492,185h1v1h-1zM492,191h1v1h-1zM492,197h1v1h-1zM492,203h1v1h-1zM492,209h1v1h-1zM492,215h1v1h-1zM492,221h1v1h-1zM492,227h1v1h-1zM492,233h1v1h-1zM492,239h1v1h-1zM492,245h1v1h-1zM492,251h1v1h-1zM492,257h1v1h-1zM492,263h1v1h-1zM492,269h1v1h-1zM492,275h1v1h-1zM492,281h1v1h-1zM492,287h1v1h-1zM492,293h1v1h-1zM492,299h1v1h-1zM492,305h1v1h-1zM492,311h1v1h-1zM492,317h1v1h-1zM492,323h1v1h-1zM492,329h1v1h-1zM492,335h1v1h-1zM492,341h1v1h-1zM492,347h1v1h-1zM492,353h1v1h-1zM492,359h1v1h-1zM492,365h1v1h-1zM492,371h1v1h-1zM492,377h1v1h-1zM492,383h1v1h-1zM492,389h1v1h-1zM492,395h1v1h-1zM492,401h1v1h-1zM492,407h1v1h-1zM492,413h1v1h-1zM492,419h1v1h-1zM492,425h1v1h-1zM492,431h1v1h-1zM492,437h1v1h-1zM492,443h1v1h-1zM492,449h1v1h-1zM492,455h1v1h-1zM492,461h1v1h-1zM492,467h1v1h-1zM493,47h1v1h-1zM493,53h1v1h-1zM493,59h1v1h-1zM493,65h1v1h-1zM493,71h1v1h-1zM493,77h1v1h-1zM493,83h1v1h-1zM493,89h1v1h-1zM493,95h1v1h-1zM493,101h1v1h-1zM493,107h1v1h-1zM493,113h1v1h-1zM493,119h1v1h-1zM493,125h1v1h-1zM493,131h1v1h-1zM493,137h1v1h-1zM493,143h1v1h-1zM493,149h1v1h-1zM493,155h1v1h-1zM493,161h1v1h-1zM493,167h1v1h-1zM493,173h1v1h-1zM493,179h1v1h-1zM493,185h1v1h-1zM493,191h1v1h-1zM493,197h1v1h-1zM493,203h1v1h-1zM493,209h1v1h-1zM493,215h1v1h-1zM493,221h1v1h-1zM493,227h1v1h-1zM493,233h1v1h-1zM493,239h1v1h-1zM493,245h1v1h-1zM493,251h1v1h-1zM493,257h1v1h-1zM493,263h1v1h-1zM493,269h1v1h-1zM493,275h1v1h-1zM493,281h1v1h-1zM493,287h1v1h-1zM493,293h1v1h-1zM493,299h1v1h-1zM493,305h1v1h-1zM493,311h1v1h-1zM493,317h1v1h-1zM493,323h1v1h-1zM493,329h1v1h-1zM493,335h1v1h-1zM493,341h1v1h-1zM493,347h1v1h-1zM493,353h1v1h-1zM493,359h1v1h-1zM493,365h1v1h-1zM493,371h1v1h-1zM493,377h1v1h-1zM493,383h1v1h-1zM493,389h1v1h-1zM493,395h1v1h-1zM493,401h1v1h-1zM493,407h1v1h-1zM493,413h1v1h-1zM493,419h1v1h-1zM493,425h1v1h-1zM493,431h1v1h-1zM493,437h1v1h-1zM493,443h1v1h-1zM493,449h1v1h-1zM493,455h1v1h-1zM493,461h1v1h-1zM493,467h1v1h-1zM496,47h1v1h-1zM496,53h1v1h-1zM496,59h1v1h-1zM496,65h1v1h-1zM496,71h1v1h-1zM496,77h1v1h-1zM496,83h1v1h-1zM496,89h1v1h-1zM496,95h1v1h-1zM496,101h1v1h-1zM496,107h1v1h-1zM496,113h1v1h-1zM496,119h1v1h-1zM496,125h1v1h-1zM496,131h1v1h-1zM496,137h1v1h-1zM496,143h1v1h-1zM496,149h1v1h-1zM496,155h1v1h-1zM496,161h1v1h-1zM496,167h1v1h-1zM496,173h1v1h-1zM496,179h1v1h-1zM496,185h1v1h-1zM496,191h1v1h-1zM496,197h1v1h-1zM496,203h1v1h-1zM496,209h1v1h-1zM496,215h1v1h-1zM496,221h1v1h-1zM496,227h1v1h-1zM496,233h1v1h-1zM496,239h1v1h-1zM496,245h1v1h-1zM496,251h1v1h-1zM496,257h1v1h-1zM496,263h1v1h-1zM496,269h1v1h-1zM496,275h1v1h-1zM496,281h1v1h-1zM496,287h1v1h-1zM496,293h1v1h-1zM496,299h1v1h-1zM496,305h1v1h-1zM496,311h1v1h-1zM496,317h1v1h-1zM496,323h1v1h-1zM496,329h1v1h-1zM496,335h1v1h-1zM496,341h1v1h-1zM496,347h1v1h-1zM496,353h1v1h-1zM496,359h1v1h-1zM496,365h1v1h-1zM496,371h1v1h-1zM496,377h1v1h-1zM496,383h1v1h-1zM496,389h1v1h-1zM496,395h1v1h-1zM496,401h1v1h-1zM496,407h1v1h-1zM496,413h1v1h-1zM496,419h1v1h-1zM496,425h1v1h-1zM496,431h1v1h-1zM496,437h1v1h-1zM496,443h1v1h-1zM496,449h1v1h-1zM496,455h1v1h-1zM496,461h1v1h-1zM496,467h1v1h-1zM511,47h1v1h-1zM511,53h1v1h-1zM511,59h1v1h-1zM511,65h1v1h-1zM511,71h1v1h-1zM511,77h1v1h-1zM511,83h1v1h-1zM511,89h1v1h-1zM511,95h1v1h-1zM511,101h1v1h-1zM511,107h1v1h-1zM511,113h1v1h-1zM511,119h1v1h-1zM511,125h1v1h-1zM511,131h1v1h-1zM511,137h1v1h-1zM511,143h1v1h-1zM511,149h1v1h-1zM511,155h1v1h-1zM511,161h1v1h-1zM511,167h1v1h-1zM511,173h1v1h-1zM511,179h1v1h-1zM511,185h1v1h-1zM511,191h1v1h-1zM511,197h1v1h-1zM511,203h1v1h-1zM511,209h1v1h-1zM511,215h1v1h-1zM511,221h1v1h-1zM511,227h1v1h-1zM511,233h1v1h-1zM511,239h1v1h-1zM511,245h1v1h-1zM511,251h1v1h-1zM511,257h1v1h-1zM511,263h1v1h-1zM511,269h1v1h-1zM511,275h1v1h-1zM511,281h1v1h-1zM511,287h1v1h-1zM511,293h1v1h-1zM511,299h1v1h-1zM511,305h1v1h-1zM511,311h1v1h-1zM511,317h1v1h-1zM511,323h1v1h-1zM511,329h1v1h-1zM511,335h1v1h-1zM511,341h1v1h-1zM511,347h1v1h-1zM511,353h1v1h-1zM511,359h1v1h-1zM511,365h1v1h-1zM511,371h1v1h-1zM511,377h1v1h-1zM511,383h1v1h-1zM511,389h1v1h-1zM511,395h1v1h-1zM511,401h1v1h-1zM511,407h1v1h-1zM511,413h1v1h-1zM511,419h1v1h-1zM511,425h1v1h-1zM511,431h1v1h-1zM511,437h1v1h-1zM511,443h1v1h-1zM511,449h1v1h-1zM511,455h1v1h-1zM511,461h1v1h-1zM511,467h1v1h-1zM513,47h1v1h-1zM513,53h1v1h-1zM513,59h1v1h-1zM513,65h1v1h-1zM513,71h1v1h-1zM513,77h1v1h-1zM513,83h1v1h-1zM513,89h1v1h-1zM513,95h1v1h-1zM513,101h1v1h-1zM513,107h1v1h-1zM513,113h1v1h-1zM513,119h1v1h-1zM513,125h1v1h-1zM513,131h1v1h-1zM513,137h1v1h-1zM513,143h1v1h-1zM513,149h1v1h-1zM513,155h1v1h-1zM513,161h1v1h-1zM513,167h1v1h-1zM513,173h1v1h-1zM513,179h1v1h-1zM513,185h1v1h-1zM513,191h1v1h-1zM513,197h1v1h-1zM513,203h1v1h-1zM513,209h1v1h-1zM513,215h1v1h-1zM513,221h1v1h-1zM513,227h1v1h-1zM513,233h1v1h-1zM513,239h1v1h-1zM513,245h1v1h-1zM513,251h1v1h-1zM513,257h1v1h-1zM513,263h1v1h-1zM513,269h1v1h-1zM513,275h1v1h-1zM513,281h1v1h-1zM513,287h1v1h-1zM513,293h1v1h-1zM513,299h1v1h-1zM513,305h1v1h-1zM513,311h1v1h-1zM513,317h1v1h-1zM513,323h1v1h-1zM513,329h1v1h-1zM513,335h1v1h-1zM513,341h1v1h-1zM513,347h1v1h-1zM513,353h1v1h-1zM513,359h1v1h-1zM513,365h1v1h-1zM513,371h1v1h-1zM513,377h1v1h-1zM513,383h1v1h-1zM513,389h1v1h-1zM513,395h1v1h-1zM513,401h1v1h-1zM513,407h1v1h-1zM513,413h1v1h-1zM513,419h1v1h-1zM513,425h1v1h-1zM513,431h1v1h-1zM513,437h1v1h-1zM513,443h1v1h-1zM513,449h1v1h-1zM513,455h1v1h-1zM513,461h1v1h-1zM513,467h1v1h-1zM515,47h1v1h-1zM515,53h1v1h-1zM515,59h1v1h-1zM515,65h1v1h-1zM515,71h1v1h-1zM515,77h1v1h-1zM515,83h1v1h-1zM515,89h1v1h-1zM515,95h1v1h-1zM515,101h1v1h-1zM515,107h1v1h-1zM515,113h1v1h-1zM515,119h1v1h-1zM515,125h1v1h-1zM515,131h1v1h-1zM515,137h1v1h-1zM515,143h1v1h-1zM515,149h1v1h-1zM515,155h1v1h-1zM515,161h1v1h-1zM515,167h1v1h-1zM515,173h1v1h-1zM515,179h1v1h-1zM515,185h1v1h-1zM515,191h1v1h-1zM515,197h1v1h-1zM515,203h1v1h-1zM515,209h1v1h-1zM515,215h1v1h-1zM515,221h1v1h-1zM515,227h1v1h-1zM515,233h1v1h-1zM515,239h1v1h-1zM515,245h1v1h-1zM515,251h1v1h-1zM515,257h1v1h-1zM515,263h1v1h-1zM515,269h1v1h-1zM515,275h1v1h-1zM515,281h1v1h-1zM515,287h1v1h-1zM515,293h1v1h-1zM515,299h1v1h-1zM515,305h1v1h-1zM515,311h1v1h-1zM515,317h1v1h-1zM515,323h1v1h-1zM515,329h1v1h-1zM515,335h1v1h-1zM515,341h1v1h-1zM515,347h1v1h-1zM515,353h1v1h-1zM515,359h1v1h-1zM515,365h1v1h-1zM515,371h1v1h-1zM515,377h1v1h-1zM515,383h1v1h-1zM515,389h1v1h-1zM515,395h1v1h-1zM515,401h1v1h-1zM515,407h1v1h-1zM515,413h1v1h-1zM515,419h1v1h-1zM515,425h1v1h-1zM515,431h1v1h-1zM515,437h1v1h-1zM515,443h1v1h-1zM515,449h1v1h-1zM515,455h1v1h-1zM515,461h1v1h-1zM515,467h1v1h-1zM736,47h1v1h-1zM736,53h1v1h-1zM736,59h1v1h-1zM736,65h1v1h-1zM736,71h1v1h-1zM736,77h1v1h-1zM736,83h1v1h-1zM736,89h1v1h-1zM736,95h1v1h-1zM736,101h1v1h-1zM736,107h1v1h-1zM736,113h1v1h-1zM736,119h1v1h-1zM736,125h1v1h-1zM736,131h1v1h-1zM736,137h1v1h-1zM736,143h1v1h-1zM736,149h1v1h-1zM736,155h1v1h-1zM736,161h1v1h-1zM736,167h1v1h-1zM736,173h1v1h-1zM736,179h1v1h-1zM736,185h1v1h-1zM736,191h1v1h-1zM736,197h1v1h-1zM736,203h1v1h-1zM736,209h1v1h-1zM736,215h1v1h-1zM736,221h1v1h-1zM736,227h1v1h-1zM736,233h1v1h-1zM736,239h1v1h-1zM736,245h1v1h-1zM736,251h1v1h-1zM736,257h1v1h-1zM736,263h1v1h-1zM736,269h1v1h-1zM736,275h1v1h-1zM736,281h1v1h-1zM736,287h1v1h-1zM736,293h1v1h-1zM736,299h1v1h-1zM736,305h1v1h-1zM736,311h1v1h-1zM736,317h1v1h-1zM736,323h1v1h-1zM736,329h1v1h-1zM736,335h1v1h-1zM736,341h1v1h-1zM736,347h1v1h-1zM736,353h1v1h-1zM736,359h1v1h-1zM736,365h1v1h-1zM736,371h1v1h-1zM736,377h1v1h-1zM736,383h1v1h-1zM736,389h1v1h-1zM736,395h1v1h-1zM736,401h1v1h-1zM736,407h1v1h-1zM736,413h1v1h-1zM736,419h1v1h-1zM736,425h1v1h-1zM736,431h1v1h-1zM736,437h1v1h-1zM736,443h1v1h-1zM736,449h1v1h-1zM736,455h1v1h-1zM736,461h1v1h-1zM736,467h1v1h-1zM741,47h1v1h-1zM741,53h1v1h-1zM741,59h1v1h-1zM741,65h1v1h-1zM741,71h1v1h-1zM741,77h1v1h-1zM741,83h1v1h-1zM741,89h1v1h-1zM741,95h1v1h-1zM741,101h1v1h-1zM741,107h1v1h-1zM741,113h1v1h-1zM741,119h1v1h-1zM741,125h1v1h-1zM741,131h1v1h-1zM741,137h1v1h-1zM741,143h1v1h-1zM741,149h1v1h-1zM741,155h1v1h-1zM741,161h1v1h-1zM741,167h1v1h-1zM741,173h1v1h-1zM741,179h1v1h-1zM741,185h1v1h-1zM741,191h1v1h-1zM741,197h1v1h-1zM741,203h1v1h-1zM741,209h1v1h-1zM741,215h1v1h-1zM741,221h1v1h-1zM741,227h1v1h-1zM741,233h1v1h-1zM741,239h1v1h-1zM741,245h1v1h-1zM741,251h1v1h-1zM741,257h1v1h-1zM741,263h1v1h-1zM741,269h1v1h-1zM741,275h1v1h-1zM741,281h1v1h-1zM741,287h1v1h-1zM741,293h1v1h-1zM741,299h1v1h-1zM741,305h1v1h-1zM741,311h1v1h-1zM741,317h1v1h-1zM741,323h1v1h-1zM741,329h1v1h-1zM741,335h1v1h-1zM741,341h1v1h-1zM741,347h1v1h-1zM741,353h1v1h-1zM741,359h1v1h-1zM741,365h1v1h-1zM741,371h1v1h-1zM741,377h1v1h-1zM741,383h1v1h-1zM741,389h1v1h-1zM741,395h1v1h-1zM741,401h1v1h-1zM741,407h1v1h-1zM741,413h1v1h-1zM741,419h1v1h-1zM741,425h1v1h-1zM741,431h1v1h-1zM741,437h1v1h-1zM741,443h1v1h-1zM741,449h1v1h-1zM741,455h1v1h-1zM741,461h1v1h-1zM741,467h1v1h-1z" fill="#b42828" shape-rendering="crispEdges"/>
<path d="M195.00,206.95 L196.27,286.90 L198.05,223.45 L199.57,256.45 L200.58,233.60 L202.11,289.44 L203.88,180.30 L205.15,236.14 L205.66,198.07 L207.18,266.60 L208.20,246.29 L209.21,290.71 L210.74,228.53 L211.75,304.67 L213.27,231.07 L214.29,304.67 L216.07,222.18 L217.34,274.21 L218.35,251.37 L220.38,314.82 L221.90,256.45 L223.43,284.37 L224.95,256.45 L226.73,219.64 L227.99,276.75 L229.26,256.45 L230.53,236.14 L232.56,225.99 L234.34,257.72 L236.37,288.17 L237.64,233.60 L239.42,256.45 L241.45,217.11 L243.22,261.52 L244.49,218.38 L246.52,279.29 L248.30,236.14 L249.57,232.34 L250.84,275.48 L252.87,231.07 L254.14,276.75 L255.91,248.83 L258.45,220.91 L260.48,266.60 L262.26,248.83 L263.53,241.22 L265.56,214.57 L267.34,261.52 L269.37,231.07 L271.14,264.06 L272.41,234.87 L274.19,269.14 L276.22,241.22 L278.25,251.37 L280.00,268.33 L280.83,230.00 L282.50,246.67 L284.17,230.00 L285.83,243.33 L287.50,227.50 L288.33,260.00 L290.00,235.00 L291.67,213.33 L292.50,258.33 L293.33,282.50 L294.17,251.67 L296.67,231.67 L297.50,256.67 L299.17,235.00 L300.00,255.00 L301.67,231.67 L303.33,261.67 L305.00,243.33 L306.67,260.00 L308.33,241.67 L309.17,263.33 L310.83,243.33 L311.67,282.50 L313.33,221.67 L314.17,251.67 L315.83,213.33 L317.50,240.00 L318.67,220.00 L320.00,288.33 L321.67,243.33 L323.33,256.67 L324.67,230.00 L326.33,214.17 L328.33,243.33 L330.00,236.67 L332.50,260.00 L334.17,225.00 L335.83,209.17 L337.50,220.00 L338.33,213.33 L340.00,240.00 L341.67,243.33 L342.50,223.33 L344.17,192.50 L345.83,218.33 L346.67,201.67 L348.33,235.00 L350.00,223.33 L350.83,238.33 L351.67,220.00 L353.33,200.00 L355.00,255.00 L355.83,263.33 L357.50,223.33 L359.17,253.33 L360.83,222.50 L361.67,263.33 L363.33,226.67 L365.00,250.00 L366.67,230.00 L368.33,276.67 L370.50,195.83 L371.67,255.00 L372.50,228.33 L374.17,291.67 L375.83,230.00 L378.33,296.67 L380.00,246.67 L381.67,297.50 L383.33,251.67 L385.00,305.00 L386.67,253.33 L388.33,218.33 L389.50,198.33 L390.83,280.83 L392.00,266.67 L393.33,240.00 L395.83,317.50 L397.50,269.17 L400.00,298.33 L402.50,280.00 L404.00,298.00 L405.00,290.00 L406.00,320.00 L407.00,330.00 L408.00,347.00 L409.00,325.00 L410.00,306.00 L410.50,340.00 L411.00,308.00 L411.50,335.00 L412.00,305.00 L412.50,333.00 L413.00,310.00 L413.50,330.00 L414.00,306.00 L414.50,328.00 L415.00,310.00 L415.50,325.00 L416.00,308.00 L416.50,330.00 L417.00,320.00 L418.00,330.00 L419.00,310.00 L420.00,325.00 L421.00,303.00 L422.00,315.00 L423.00,302.00 L424.00,318.00 L424.90,300.00 L425.00,298.98 L426.27,286.29 L427.54,296.45 L428.81,283.76 L430.08,293.91 L431.35,281.22 L432.61,296.45 L433.88,276.14 L435.15,291.37 L436.42,276.14 L437.69,290.10 L438.96,273.60 L439.72,293.91 L440.74,273.60 L441.75,273.60 L442.77,311.68 L444.04,301.52 L445.30,311.68 L446.57,282.49 L447.84,309.14 L449.11,311.68 L450.38,314.21 L451.65,321.83 L452.41,333.25 L453.43,311.68 L454.95,324.37 L455.96,309.14 L456.98,316.75 L457.99,301.52 L459.26,311.68 L460.53,352.28 L461.29,283.76 L462.56,281.22 L463.58,291.37 L464.85,272.34 L466.12,281.22 L467.64,276.14 L468.65,298.98 L469.67,273.60 L470.69,281.22 L471.95,268.53 L473.22,271.07 L474.49,264.72 L475.76,268.53 L478.30,264.72 L479.57,263.45 L480.84,260.91 L482.11,255.84 L483.38,268.53 L484.64,271.07 L485.91,245.69 L487.18,253.30 L488.45,243.15 L489.72,253.30 L490.48,235.53 L491.50,255.84 L493.02,253.30 L494.80,254.57 L496.57,252.03 L498.60,253.30 L499.87,258.38 L501.14,265.99 L502.41,276.14 L503.68,273.60 L504.95,288.83 L506.22,276.14 L507.49,286.29 L508.76,281.22 L510.00,284.75 L511.27,287.28 L512.54,292.36 L513.81,287.28 L515.08,289.82 L516.35,286.02 L517.61,284.75 L518.88,282.21 L520.15,278.40 L521.42,283.48 L522.69,280.94 L523.96,282.21 L525.23,287.28 L526.50,297.44 L527.77,287.28 L529.04,292.36 L530.30,282.21 L531.57,278.40 L532.84,273.32 L534.11,275.86 L535.38,269.52 L537.92,268.25 L539.19,261.90 L540.46,254.29 L541.73,251.75 L542.99,246.68 L544.26,254.29 L545.53,236.52 L546.80,231.45 L548.07,239.06 L549.34,221.29 L550.61,216.22 L551.88,218.76 L553.15,208.60 L554.42,199.72 L555.69,208.60 L556.45,254.29 L557.72,251.75 L558.98,261.90 L560.25,266.98 L561.52,272.06 L562.79,259.37 L563.81,264.44 L564.82,287.28 L565.84,274.59 L567.11,277.13 L568.38,273.32 L569.64,272.06 L570.91,266.98 L572.18,264.44 L573.45,261.90 L574.72,259.37 L575.99,254.29 L577.26,256.83 L578.53,241.60 L579.80,236.52 L581.07,239.06 L582.34,236.52 L583.60,223.83 L584.87,217.49 L586.14,216.22 L587.41,208.60 L588.68,203.53 L589.95,198.45 L591.22,200.99 L592.49,193.38 L593.76,206.07 L595.00,165.84 L596.27,188.68 L597.54,191.22 L598.81,158.22 L600.08,178.53 L601.35,170.91 L602.61,181.07 L603.88,153.15 L605.15,170.91 L606.42,181.07 L607.69,160.76 L608.96,150.61 L610.23,163.30 L611.50,168.38 L612.77,178.53 L614.04,145.53 L615.30,137.92 L616.57,142.99 L617.84,158.22 L619.11,150.61 L620.38,155.69 L621.65,178.53 L622.92,158.22 L624.19,158.22 L625.46,181.07 L626.73,183.60 L627.99,198.83 L629.26,193.76 L630.53,186.14 L631.80,196.29 L633.07,208.98 L634.34,219.14 L635.61,206.45 L636.88,231.83 L638.15,239.44 L639.42,201.37 L640.69,236.90 L641.95,244.52 L643.22,198.83 L644.49,211.52 L645.76,196.29 L647.03,214.06 L648.30,186.14 L649.57,201.37 L650.84,186.14 L652.11,198.83 L653.38,186.14 L654.64,214.06 L655.91,234.37 L657.18,186.14 L658.45,183.60 L659.72,160.76 L660.99,155.69 L662.26,186.14 L663.53,241.98 L664.80,148.07 L666.07,178.53 L667.34,168.38 L668.60,196.29 L669.87,163.30 L671.14,186.14 L672.41,163.30 L673.68,175.99 L674.95,160.76 L676.22,168.38 L677.49,140.46 L678.76,155.69 L680.00,158.91 L681.27,120.84 L682.54,146.22 L683.81,133.53 L685.08,148.76 L686.35,138.60 L687.61,146.22 L688.88,141.14 L690.15,148.76 L691.42,138.60 L692.69,148.76 L693.96,143.68 L695.23,148.76 L696.50,141.14 L697.77,138.60 L699.04,133.53 L700.30,141.14 L701.57,130.99 L702.84,133.53 L704.11,123.38 L705.38,128.45 L706.65,141.14 L707.92,158.91 L709.19,169.06 L710.46,163.98 L711.73,189.37 L712.99,100.53 L714.26,136.07 L715.53,171.60 L716.80,207.13 L717.56,224.90 L718.58,110.69 L719.85,141.14 L720.61,113.22 L721.88,146.22 L723.15,141.14 L724.42,186.83 L725.69,138.60 L726.95,189.37 L728.22,148.76 L729.49,153.83 L730.76,163.98 L732.03,146.22 L733.30,156.37 L734.57,82.77 L735.33,75.15 L736.35,148.76 L737.11,169.06 L738.38,161.45 L739.64,171.60 L740.91,179.21 L741.68,153.83 L742.94,130.99 L743.96,161.45 L745.48,153.83 L747.26,158.91 L748.53,161.45 L749.80,146.22 L751.07,166.52 L752.34,138.60 L753.60,148.76 L754.87,133.53 L755.00,161.23 L756.08,176.30 L757.15,146.15 L758.88,122.46 L760.38,133.23 L761.46,131.07 L762.54,141.84 L763.62,137.54 L764.69,139.69 L765.77,144.00 L766.85,167.69 L767.92,180.61 L768.00,175.00 L769.50,238.00 L770.50,200.00 L772.00,118.00 L773.00,125.00 L774.00,145.00 L775.00,150.00 L776.00,145.00 L777.30,318.00 L778.00,200.00 L779.00,109.50 L780.00,125.00 L781.00,150.00 L782.00,138.00 L783.00,150.00 L784.00,122.50 L785.20,215.50 L786.50,100.00 L787.30,77.00 L788.00,215.00 L788.80,76.00 L789.50,224.00 L790.20,75.00 L791.00,90.00 L792.00,80.00 L793.00,90.00 L793.50,140.00 L794.20,172.00 L795.00,114.00 L795.40,120.00 L796.20,126.00 L797.20,138.00 L797.80,152.00 L799.00,146.00 L800.30,155.00 L801.50,165.00 L802.80,173.00 L804.00,108.00 L805.00,75.00 L805.50,319.00" stroke="#000" stroke-width="1" fill="none" stroke-linejoin="bevel" shape-rendering="crispEdges"/>
<path d="M195.63,222.34 L197.16,218.42 L198.81,239.58 L200.08,215.74 L201.35,237.85 L202.99,239.48 L204.52,220.89 L205.41,246.64 L206.42,222.06 L207.69,243.20 L208.71,215.18 L209.97,226.35 L211.24,243.54 L212.51,266.97 L213.78,238.50 L215.18,256.76 L216.70,260.97 L217.84,277.81 L219.37,259.73 L221.14,253.72 L222.66,271.92 L224.19,241.72 L225.84,267.36 L227.36,252.17 L228.63,244.89 L229.90,244.03 L231.55,252.75 L233.45,263.51 L235.36,248.34 L237.01,258.77 L238.53,259.55 L240.43,233.55 L242.34,237.26 L243.86,225.49 L245.51,241.25 L247.41,238.68 L248.93,240.54 L250.20,246.77 L251.85,243.55 L253.50,251.18 L255.03,239.89 L257.18,243.34 L259.47,248.39 L261.37,254.09 L262.89,242.08 L264.54,250.80 L266.45,249.42 L268.35,256.83 L270.25,254.19 L271.78,243.88 L273.30,256.90 L275.20,231.91 L277.23,241.34 L279.12,249.60 L280.42,236.08 L281.67,243.13 L283.33,234.13 L285.00,246.76 L286.67,248.73 L287.92,248.16 L289.17,250.99 L290.83,239.76 L292.08,246.85 L292.92,245.03 L293.75,244.77 L295.42,250.83 L297.08,257.38 L298.33,259.14 L299.58,251.23 L300.83,257.17 L302.50,245.87 L304.17,254.33 L305.83,245.98 L307.50,258.18 L308.75,249.13 L310.00,240.23 L311.25,241.00 L312.50,245.96 L313.75,236.46 L315.00,242.78 L316.67,236.96 L318.08,233.68 L319.33,233.81 L320.83,245.79 L322.50,231.99 L324.00,235.15 L325.50,234.83 L327.33,242.91 L329.17,222.95 L331.25,235.81 L333.33,237.50 L335.00,236.44 L336.67,230.94 L337.92,230.10 L339.17,219.08 L340.83,221.91 L342.08,221.13 L343.33,229.33 L345.00,227.14 L346.25,214.55 L347.50,217.51 L349.17,219.15 L350.42,219.49 L351.25,223.12 L352.50,224.62 L354.17,217.64 L355.42,215.66 L356.67,233.25 L358.33,227.18 L360.00,239.85 L361.25,240.60 L362.50,254.34" stroke="#000" stroke-width="1" fill="none" shape-rendering="crispEdges"/>
<path d="M363.88,234.16 L364.43,242.33 L365.55,245.27 L366.10,236.65 L367.22,245.43 L367.77,261.18 L369.05,248.60 L369.76,223.37 L370.88,215.93 L371.27,236.17 L371.94,244.41 L372.22,236.53 L373.05,247.43 L373.60,271.50 L374.72,272.17 L375.27,248.95 L376.66,254.12 L377.48,276.04 L378.88,280.84 L379.43,264.18 L380.55,261.93 L381.10,278.08 L382.22,282.50 L382.77,265.31 L383.88,267.90 L384.43,285.73 L385.55,285.88 L386.10,270.74 L387.22,241.52 L387.77,231.74 L388.72,211.82 L389.10,205.75 L389.94,225.56 L390.38,253.50 L391.22,275.97 L391.60,270.51 L392.44,260.06 L392.88,251.25 L394.16,267.07 L394.98,292.06 L396.38,300.74 L396.93,284.41 L398.32,277.86 L399.15,286.53 L400.82,293.46 L401.65,285.80" stroke="#000" stroke-width="1" fill="none" shape-rendering="crispEdges"/>
<path d="M425.42,296.32 L425.84,290.11 L426.69,291.66 L427.11,294.52 L427.96,290.06 L428.38,286.79 L429.23,288.91 L429.64,290.32 L430.49,291.83 L430.91,285.08 L431.76,284.37 L432.18,291.84 L433.03,290.97 L433.45,282.03 L434.30,279.35 L434.72,285.46 L435.57,288.39 L435.99,282.46 L436.84,279.07 L437.26,284.24 L438.11,282.90 L438.53,277.28 L439.21,281.61 L439.46,285.59 L440.06,287.47 L440.39,280.28 L441.07,272.24 L441.41,274.62 L442.09,284.54 L442.42,299.36 L443.19,306.64 L443.60,304.63 L444.45,303.61 L444.87,307.21 L445.72,304.12 L446.14,293.75 L446.99,290.42 L447.41,301.77 L448.26,308.70 L448.68,310.35 L449.53,314.07 L449.95,313.97 L450.80,314.97 L451.22,321.39 L451.90,324.33 L452.15,328.30 L452.75,327.33 L453.08,318.26 L453.93,314.97 L454.43,318.17 L455.28,317.54 L455.62,314.68 L456.30,310.52 L456.63,314.61 L457.31,311.16 L457.65,306.49 L458.41,306.89 L458.83,308.15 L459.68,325.40 L460.10,340.09 L460.78,328.27 L461.04,305.53 L461.71,284.72 L462.13,283.48 L462.90,283.47 L463.23,286.55 L464.00,286.14 L464.42,280.74 L465.27,273.93 L465.69,280.18 L466.62,281.22 L467.12,278.32 L467.97,283.33 L468.31,289.48 L468.99,288.58 L469.32,284.27 L470.01,274.97 L470.34,279.53 L471.10,275.96 L471.52,274.27 L472.37,269.79 L472.79,269.29 L473.64,267.54 L474.06,267.85 L474.91,264.08 L475.33,266.04 L476.60,267.53 L477.44,267.57 L478.72,264.80 L479.14,262.92 L479.99,264.45 L480.41,260.47 L481.26,257.11 L481.68,256.55 L482.53,259.79 L482.94,262.28 L483.79,267.94 L484.21,269.63 L485.06,263.01 L485.48,252.69 L486.33,247.59 L486.75,252.43 L487.60,252.06 L488.02,247.29 L488.87,247.34 L489.29,250.22 L489.97,245.85 L490.22,239.53 L490.82,240.11 L491.15,250.74 L492.00,255.88 L492.50,256.20 L493.61,251.61 L494.19,254.74 L495.38,253.65 L495.97,253.91 L497.24,251.65 L497.91,255.07 L499.02,253.11 L499.44,256.85 L500.29,261.93 L500.71,265.16 L501.56,270.38 L501.98,273.59 L502.83,276.59 L503.25,276.29 L504.10,277.98 L504.52,284.47 L505.37,286.41 L505.79,282.09 L506.64,279.13 L507.06,284.12 L507.91,286.22 L508.32,283.26 L509.17,282.93 L509.58,283.03 L510.42,285.95 L510.84,286.90 L511.69,287.11 L512.11,291.25 L512.96,292.86 L513.38,290.68 L514.23,289.13 L514.64,288.47 L515.49,289.60 L515.91,287.67 L516.76,285.33 L517.18,286.67 L518.03,282.08 L518.45,284.17 L519.30,278.88 L519.72,280.14 L520.57,279.99 L520.99,280.56 L521.84,283.51 L522.26,281.79 L523.11,281.86 L523.53,283.63 L524.38,282.81 L524.80,283.41 L525.65,289.76 L526.07,294.77 L526.92,292.78 L527.34,289.28 L528.19,290.74 L528.60,291.34 L529.45,288.75 L529.87,287.38 L530.72,280.19 L531.14,280.43 L531.99,275.40 L532.41,274.75 L533.26,275.51 L533.68,276.82 L534.53,275.44 L534.95,271.17 L536.22,269.46 L537.06,267.87 L538.34,264.55 L538.76,264.05 L539.61,260.87 L540.03,258.41 L540.88,254.38 L541.29,254.59 L542.14,249.09 L542.56,246.95 L543.41,248.97 L543.83,250.71 L544.68,247.17 L545.10,242.18 L545.95,235.40 L546.37,233.15 L547.22,233.15 L547.64,237.96 L548.49,235.32 L548.91,227.13 L549.76,217.75 L550.18,215.88 L551.03,218.70 L551.45,215.88 L552.30,216.32 L552.72,212.37 L553.57,204.83 L553.98,204.02 L554.84,200.54 L555.25,203.98 L555.94,223.48 L556.19,236.67 L556.87,254.90 L557.28,251.46 L558.13,253.52 L558.55,256.46 L559.40,264.15 L559.82,265.02 L560.67,269.23 L561.09,271.01 L561.94,269.22 L562.36,265.70 L563.13,261.85 L563.46,261.39 L564.14,271.87 L564.48,278.10 L565.16,280.94 L565.49,278.79 L566.26,276.37 L566.68,274.86 L567.53,274.87 L567.94,273.94 L568.79,273.77 L569.21,272.58 L570.06,270.88 L570.48,269.83 L571.33,265.67 L571.75,266.59 L572.60,265.39 L573.02,260.95 L573.87,262.97 L574.29,261.21 L575.14,256.06 L575.56,255.81 L576.41,255.68 L576.83,257.77 L577.68,251.26 L578.10,247.08 L578.95,241.59 L579.37,239.55 L580.22,239.32 L580.63,238.04 L581.48,238.89 L581.90,236.09 L582.75,233.31 L583.17,229.55 L584.02,222.36 L584.44,220.60 L585.29,215.81 L585.71,218.41 L586.56,215.82 L586.98,213.29 L587.83,207.09 L588.25,206.53 L589.10,201.06 L589.52,201.98 L590.37,200.85 L590.79,199.46 L591.64,196.64 L592.06,195.70 L592.91,197.78 L593.32,202.93 L594.17,192.74 L594.58,177.44 L595.42,174.74 L595.84,179.00 L596.69,190.84 L597.11,188.92 L597.96,179.60 L598.38,170.71 L599.23,163.34 L599.64,170.08 L600.49,176.09 L600.91,174.49 L601.76,175.76 L602.18,178.45 L603.03,173.81 L603.45,162.61 L604.30,160.99 L604.72,163.05 L605.57,173.04 L605.99,177.73 L606.84,173.44 L607.26,168.67 L608.11,158.02 L608.53,154.16 L609.38,156.31 L609.80,159.25 L610.65,164.15 L611.07,166.13 L611.92,173.25 L612.34,176.84 L613.19,166.36 L613.60,158.29 L614.45,145.08 L614.87,140.61 L615.72,139.92 L616.14,139.95 L616.99,148.18 L617.41,153.06 L618.26,156.17 L618.68,151.12 L619.53,154.35 L619.95,154.03 L620.80,162.79 L621.22,172.09 L622.07,172.10 L622.49,165.09 L623.34,159.06 L623.76,156.31 L624.61,165.93 L625.03,172.92 L625.88,183.91 L626.29,184.60 L627.14,187.61 L627.56,193.54 L628.41,195.52 L628.83,195.19 L629.68,192.63 L630.10,190.49 L630.95,189.39 L631.37,192.04 L632.22,199.12 L632.64,205.19 L633.49,214.21 L633.91,214.05 L634.76,216.18 L635.18,208.66 L636.03,213.48 L636.45,222.00 L637.30,235.16 L637.72,236.07 L638.57,226.24 L638.98,214.84 L639.84,211.36 L640.25,225.84 L641.10,237.76 L641.52,241.97 L642.37,228.34 L642.79,213.04 L643.64,203.15 L644.06,206.93 L644.91,205.95 L645.33,201.09 L646.18,202.29 L646.60,206.52 L647.45,203.55 L647.87,196.21 L648.72,191.78 L649.14,196.32 L649.99,197.89 L650.41,191.81 L651.26,191.90 L651.68,193.34 L652.53,195.70 L652.94,191.82 L653.79,197.13 L654.21,203.76 L655.06,219.95 L655.48,229.32 L656.33,217.21 L656.75,204.73 L657.60,187.01 L658.02,182.86 L658.87,174.92 L659.29,169.52 L660.14,158.03 L660.56,155.64 L661.41,167.20 L661.83,175.44 L662.68,205.84 L663.10,221.35 L663.95,210.56 L664.37,180.81 L665.22,156.00 L665.63,166.86 L666.48,175.98 L666.90,173.64 L667.75,179.65 L668.17,185.11 L669.02,185.43 L669.44,175.65 L670.29,170.85 L670.71,179.19 L671.56,177.24 L671.98,169.18 L672.83,165.75 L673.25,169.64 L674.10,171.19 L674.52,166.00 L675.37,163.58 L675.79,164.23 L676.64,157.77 L677.06,148.65 L677.91,146.98 L678.32,152.66 L679.17,158.63 L679.58,156.03 L680.42,144.42 L680.84,135.77 L681.69,129.05 L682.11,138.75 L682.96,141.27 L683.38,137.70 L684.23,138.62 L684.64,143.27 L685.49,145.85 L685.91,139.91 L686.76,142.00 L687.18,145.14 L688.03,143.14 L688.45,142.67 L689.30,144.71 L689.72,145.75 L690.57,144.06 L690.99,140.58 L691.84,142.01 L692.26,143.17 L693.11,148.81 L693.53,146.73 L694.38,146.26 L694.80,148.62 L695.65,146.81 L696.07,143.31 L696.92,140.74 L697.34,139.49 L698.19,139.05 L698.60,136.60 L699.45,134.98 L699.87,140.36 L700.72,138.87 L701.14,135.66 L701.99,133.21 L702.41,132.25 L703.26,131.92 L703.68,128.50 L704.53,125.91 L704.95,127.90 L705.80,133.81 L706.22,136.41 L707.07,147.98 L707.49,150.98 L708.34,161.56 L708.76,165.47 L709.61,165.23 L710.03,165.08 L710.88,172.97 L711.29,181.28 L712.14,158.87 L712.56,132.69 L713.41,112.99 L713.83,123.27 L714.68,148.49 L715.10,159.82 L715.95,183.47 L716.37,194.56 L717.05,215.19 L717.30,219.48 L717.90,188.09 L718.23,150.67 L719.00,122.85 L719.42,128.69 L720.10,132.44 L720.35,123.77 L721.03,123.04 L721.45,134.57 L722.30,142.57 L722.72,141.53 L723.57,155.67 L723.98,169.53 L724.84,169.82 L725.25,156.78 L726.10,155.58 L726.52,172.14 L727.37,178.02 L727.79,162.86 L728.64,152.61 L729.06,152.71 L729.91,158.54 L730.33,158.67 L731.18,158.55 L731.60,153.40 L732.45,147.57 L732.87,154.81 L733.72,130.58 L734.14,107.67 L734.82,78.80 L735.07,77.72 L735.66,99.93 L736.00,121.79 L736.60,157.42 L736.85,161.81 L737.53,166.67 L737.94,164.47 L738.79,164.21 L739.21,167.20 L740.06,174.79 L740.48,176.89 L741.16,169.89 L741.42,163.41 L742.09,145.40 L742.51,136.62 L743.28,139.92 L743.61,149.08 L744.46,157.42 L744.96,157.54 L746.07,155.02 L746.65,158.93 L747.68,160.84 L748.10,158.60 L748.95,158.57 L749.37,153.35 L750.22,151.04 L750.63,161.40 L751.48,157.00 L751.90,148.00 L752.75,144.04 L753.17,144.18 L754.02,143.83 L754.44,140.63 L754.91,143.65 L754.96,151.67" stroke="#000" stroke-width="1" fill="none" shape-rendering="crispEdges"/>
<path d="M137,114h1V473h-1zM140,101h1V473h-1zM141,148h1V473h-1zM142,155h1V270h-1zM144,140h1V416h-1zM145,50h1V318h-1zM146,50h1V285h-1zM148,140h1V339h-1zM149,97h1V221h-1zM150,45h1V312h-1zM152,158h1V250h-1zM153,155h1V250h-1zM155,155h1V352h-1zM156,85h1V221h-1zM158,114h1V299h-1zM159,118h1V197h-1zM160,114h1V300h-1zM163,116h1V197h-1zM164,112h1V305h-1zM165,116h1V240h-1zM166,45h1V215h-1zM167,100h1V260h-1zM168,144h1V270h-1zM170,184h1V270h-1zM171,184h1V300h-1zM173,190h1V260h-1zM174,200h1V320h-1zM175,169h1V290h-1zM178,190h1V253h-1zM179,200h1V305h-1zM180,164h1V280h-1zM182,178h1V283h-1zM184,185h1V283h-1zM187,164h1V280h-1zM189,186h1V297h-1zM191,190h1V287h-1zM192,183h1V287h-1zM194,180h1V287h-1zM172,205h1V250h-1zM177,215h1V245h-1zM183,210h1V255h-1zM190,215h1V250h-1zM186,225h1V255h-1zM162,190h1V235h-1zM161,150h1V200h-1zM147,97h1V221h-1z" fill="#000" shape-rendering="crispEdges"/>
<g fill="#000">
<text x="131.68" y="34.00" font-family="Liberation Serif" font-weight="normal" font-size="25.96" textLength="57.32" lengthAdjust="spacingAndGlyphs" stroke="#fff" stroke-width="0.3">spec</text>
<text x="194.20" y="32.00" font-family="Liberation Serif" font-weight="normal" font-size="25.96" textLength="14.60" lengthAdjust="spacingAndGlyphs" stroke="#fff" stroke-width="0.3">–</text>
<text x="211.17" y="34.00" font-family="Liberation Serif" font-weight="normal" font-size="25.96" textLength="78.77" lengthAdjust="spacingAndGlyphs" stroke="#fff" stroke-width="0.3">55886</text>
<text x="293.20" y="32.00" font-family="Liberation Serif" font-weight="normal" font-size="25.96" textLength="14.60" lengthAdjust="spacingAndGlyphs" stroke="#fff" stroke-width="0.3">–</text>
<text x="311.23" y="34.00" font-family="Liberation Serif" font-weight="normal" font-size="25.96" textLength="50.37" lengthAdjust="spacingAndGlyphs" stroke="#fff" stroke-width="0.3">M31</text>
<text x="363.14" y="34.50" font-family="Liberation Serif" font-weight="normal" font-size="25.96" textLength="8.73" lengthAdjust="spacingAndGlyphs" stroke="#fff" stroke-width="0.3">_</text>
<text x="371.83" y="34.00" font-family="Liberation Serif" font-weight="normal" font-size="25.96" textLength="206.57" lengthAdjust="spacingAndGlyphs" stroke="#fff" stroke-width="0.3">004437N404045</text>
<text x="578.44" y="34.50" font-family="Liberation Serif" font-weight="normal" font-size="25.96" textLength="9.12" lengthAdjust="spacingAndGlyphs" stroke="#fff" stroke-width="0.3">_</text>
<text x="588.08" y="34.00" font-family="Liberation Serif" font-weight="normal" font-size="25.96" textLength="34.80" lengthAdjust="spacingAndGlyphs" stroke="#fff" stroke-width="0.3">M2</text>
<text x="623.96" y="34.50" font-family="Liberation Serif" font-weight="normal" font-size="25.96" textLength="10.18" lengthAdjust="spacingAndGlyphs" stroke="#fff" stroke-width="0.3">_</text>
<text x="634.23" y="34.00" font-family="Liberation Serif" font-weight="normal" font-size="25.96" textLength="58.70" lengthAdjust="spacingAndGlyphs" stroke="#fff" stroke-width="0.3">sp06</text>
<text x="695.21" y="32.00" font-family="Liberation Serif" font-weight="normal" font-size="25.96" textLength="15.57" lengthAdjust="spacingAndGlyphs" stroke="#fff" stroke-width="0.3">–</text>
<text x="714.12" y="34.00" font-family="Liberation Serif" font-weight="normal" font-size="25.96" textLength="99.06" lengthAdjust="spacingAndGlyphs" stroke="#fff" stroke-width="0.3">154.fits</text>
<text x="135.16" y="560.40" font-family="Liberation Serif" font-weight="normal" font-size="26.57" textLength="121.01" lengthAdjust="spacingAndGlyphs" stroke="#fff" stroke-width="0.3">Unknown</text>
<text x="295.16" y="559.80" font-family="Liberation Serif" font-weight="normal" font-size="25.81" textLength="50.18" lengthAdjust="spacingAndGlyphs" stroke="#fff" stroke-width="0.3">Non</text>
<text x="135.22" y="590.00" font-family="Liberation Serif" font-weight="normal" font-size="19.55" textLength="20.42" lengthAdjust="spacingAndGlyphs">cz</text>
<text x="165.46" y="590.00" font-family="Liberation Serif" font-weight="normal" font-size="19.55" textLength="14.06" lengthAdjust="spacingAndGlyphs">=</text>
<text x="189.44" y="590.00" font-family="Liberation Serif" font-weight="normal" font-size="19.55" textLength="36.60" lengthAdjust="spacingAndGlyphs">NaN</text>
<text x="135.51" y="619.70" font-family="Liberation Serif" font-weight="normal" font-size="19.24" textLength="23.51" lengthAdjust="spacingAndGlyphs">RA</text>
<text x="168.81" y="619.70" font-family="Liberation Serif" font-weight="normal" font-size="19.24" textLength="13.45" lengthAdjust="spacingAndGlyphs">=</text>
<text x="201.92" y="620.10" font-family="Liberation Serif" font-weight="normal" font-size="19.70" textLength="90.10" lengthAdjust="spacingAndGlyphs">14.14286,</text>
<text x="301.59" y="619.70" font-family="Liberation Serif" font-weight="normal" font-size="19.55" textLength="35.70" lengthAdjust="spacingAndGlyphs">DEC</text>
<text x="346.71" y="619.70" font-family="Liberation Serif" font-weight="normal" font-size="19.55" textLength="13.45" lengthAdjust="spacingAndGlyphs">=</text>
<text x="379.56" y="620.00" font-family="Liberation Serif" font-weight="normal" font-size="19.55" textLength="85.03" lengthAdjust="spacingAndGlyphs">40.02785</text>
<text x="607.32" y="560.00" font-family="Liberation Serif" font-weight="normal" font-size="25.96" textLength="97.07" lengthAdjust="spacingAndGlyphs" stroke="#fff" stroke-width="0.3">LAMOST</text>
<text x="718.25" y="560.00" font-family="Liberation Serif" font-weight="normal" font-size="25.96" textLength="49.19" lengthAdjust="spacingAndGlyphs" stroke="#fff" stroke-width="0.3">DR2</text>
<text x="608.36" y="590.20" font-family="Liberation Serif" font-weight="normal" font-size="18.94" textLength="98.51" lengthAdjust="spacingAndGlyphs">Obs–Date:</text>
<text x="714.51" y="590.20" font-family="Liberation Serif" font-weight="normal" font-size="18.94" textLength="90.56" lengthAdjust="spacingAndGlyphs">20111120</text>
<text x="393.60" y="529.40" font-family="Liberation Mono" font-weight="normal" font-size="19.43" textLength="160.61" lengthAdjust="spacingAndGlyphs" stroke="#fff" stroke-width="0.25">Wavelength (Å)</text>
<g transform="rotate(-90)"><text x="-338.67" y="70.30" font-family="Liberation Mono" font-weight="normal" font-size="20.95" textLength="159.14" lengthAdjust="spacingAndGlyphs" stroke="#fff" stroke-width="0.25">Flux (relative)</text></g>
<text x="147.3" y="62.3" font-family="Liberation Serif" font-size="14.5" font-weight="normal" stroke="#000" stroke-width="0.45" text-anchor="middle" textLength="18" lengthAdjust="spacingAndGlyphs">Hθ</text>
<text x="164.8" y="62.3" font-family="Liberation Serif" font-size="14.5" font-weight="normal" stroke="#000" stroke-width="0.45" text-anchor="middle" textLength="9" lengthAdjust="spacingAndGlyphs">K</text>
<text x="185.2" y="62.3" font-family="Liberation Serif" font-size="14.5" font-weight="normal" stroke="#000" stroke-width="0.45" text-anchor="middle" textLength="18" lengthAdjust="spacingAndGlyphs">Hδ</text>
<text x="218.5" y="62.3" font-family="Liberation Serif" font-size="14.5" font-weight="normal" stroke="#000" stroke-width="0.45" text-anchor="middle" textLength="24.5" lengthAdjust="spacingAndGlyphs">OIII</text>
<text x="319.8" y="62.3" font-family="Liberation Serif" font-size="14.5" font-weight="normal" stroke="#000" stroke-width="0.45" text-anchor="middle" textLength="19" lengthAdjust="spacingAndGlyphs">Mg</text>
<text x="469" y="62.3" font-family="Liberation Serif" font-size="14.5" font-weight="normal" stroke="#000" stroke-width="0.45" text-anchor="middle" textLength="14.5" lengthAdjust="spacingAndGlyphs">OI</text>
<text x="495.8" y="62.3" font-family="Liberation Serif" font-size="14.5" font-weight="normal" stroke="#000" stroke-width="0.45" text-anchor="middle" textLength="19.5" lengthAdjust="spacingAndGlyphs">NII</text>
<text x="514.2" y="62.3" font-family="Liberation Serif" font-size="14.5" font-weight="normal" stroke="#000" stroke-width="0.45" text-anchor="middle" textLength="21.5" lengthAdjust="spacingAndGlyphs">SII</text>
<text x="139.8" y="79.5" font-family="Liberation Serif" font-size="14.5" font-weight="normal" stroke="#000" stroke-width="0.45" text-anchor="middle" textLength="20" lengthAdjust="spacingAndGlyphs">OII</text>
<text x="159.6" y="79.5" font-family="Liberation Serif" font-size="14.5" font-weight="normal" stroke="#000" stroke-width="0.45" text-anchor="middle" textLength="20" lengthAdjust="spacingAndGlyphs">HeI</text>
<text x="182.2" y="79.5" font-family="Liberation Serif" font-size="14.5" font-weight="normal" stroke="#000" stroke-width="0.45" text-anchor="middle" textLength="21.5" lengthAdjust="spacingAndGlyphs">SII</text>
<text x="215.5" y="79.5" font-family="Liberation Serif" font-size="14.5" font-weight="normal" stroke="#000" stroke-width="0.45" text-anchor="middle" textLength="18.5" lengthAdjust="spacingAndGlyphs">Hγ</text>
<text x="299" y="79.5" font-family="Liberation Serif" font-size="14.5" font-weight="normal" stroke="#000" stroke-width="0.45" text-anchor="middle" textLength="24.5" lengthAdjust="spacingAndGlyphs">OIII</text>
<text x="461.2" y="79.5" font-family="Liberation Serif" font-size="14.5" font-weight="normal" stroke="#000" stroke-width="0.45" text-anchor="middle" textLength="14.5" lengthAdjust="spacingAndGlyphs">OI</text>
<text x="493" y="79.5" font-family="Liberation Serif" font-size="14.5" font-weight="normal" stroke="#000" stroke-width="0.45" text-anchor="middle" textLength="18.5" lengthAdjust="spacingAndGlyphs">Hα</text>
<text x="512" y="79.5" font-family="Liberation Serif" font-size="14.5" font-weight="normal" stroke="#000" stroke-width="0.45" text-anchor="middle" textLength="21.5" lengthAdjust="spacingAndGlyphs">SII</text>
<text x="741.6" y="79.5" font-family="Liberation Serif" font-size="14.5" font-weight="normal" stroke="#000" stroke-width="0.45" text-anchor="middle" textLength="27" lengthAdjust="spacingAndGlyphs">CaII</text>
<text x="139.8" y="96.6" font-family="Liberation Serif" font-size="14.5" font-weight="normal" stroke="#000" stroke-width="0.45" text-anchor="middle" textLength="20" lengthAdjust="spacingAndGlyphs">OII</text>
<text x="152.8" y="96.6" font-family="Liberation Serif" font-size="14.5" font-weight="normal" stroke="#000" stroke-width="0.45" text-anchor="middle" textLength="16" lengthAdjust="spacingAndGlyphs">Hη</text>
<text x="169.3" y="96.6" font-family="Liberation Serif" font-size="14.5" font-weight="normal" stroke="#000" stroke-width="0.45" text-anchor="middle" textLength="9.5" lengthAdjust="spacingAndGlyphs">H</text>
<text x="211.3" y="96.6" font-family="Liberation Serif" font-size="14.5" font-weight="normal" stroke="#000" stroke-width="0.45" text-anchor="middle" textLength="9" lengthAdjust="spacingAndGlyphs">G</text>
<text x="293.2" y="96.6" font-family="Liberation Serif" font-size="14.5" font-weight="normal" stroke="#000" stroke-width="0.45" text-anchor="middle" textLength="24.5" lengthAdjust="spacingAndGlyphs">OIII</text>
<text x="409.8" y="96.6" font-family="Liberation Serif" font-size="14.5" font-weight="normal" stroke="#000" stroke-width="0.45" text-anchor="middle" textLength="18" lengthAdjust="spacingAndGlyphs">Na</text>
<text x="491.8" y="96.6" font-family="Liberation Serif" font-size="14.5" font-weight="normal" stroke="#000" stroke-width="0.45" text-anchor="middle" textLength="19.5" lengthAdjust="spacingAndGlyphs">NII</text>
<text x="511.1" y="96.6" font-family="Liberation Serif" font-size="14.5" font-weight="normal" stroke="#000" stroke-width="0.45" text-anchor="middle" textLength="11.5" lengthAdjust="spacingAndGlyphs">Li</text>
<text x="735.9" y="96.6" font-family="Liberation Serif" font-size="14.5" font-weight="normal" stroke="#000" stroke-width="0.45" text-anchor="middle" textLength="27" lengthAdjust="spacingAndGlyphs">CaII</text>
</g>
</svg></body></html>
